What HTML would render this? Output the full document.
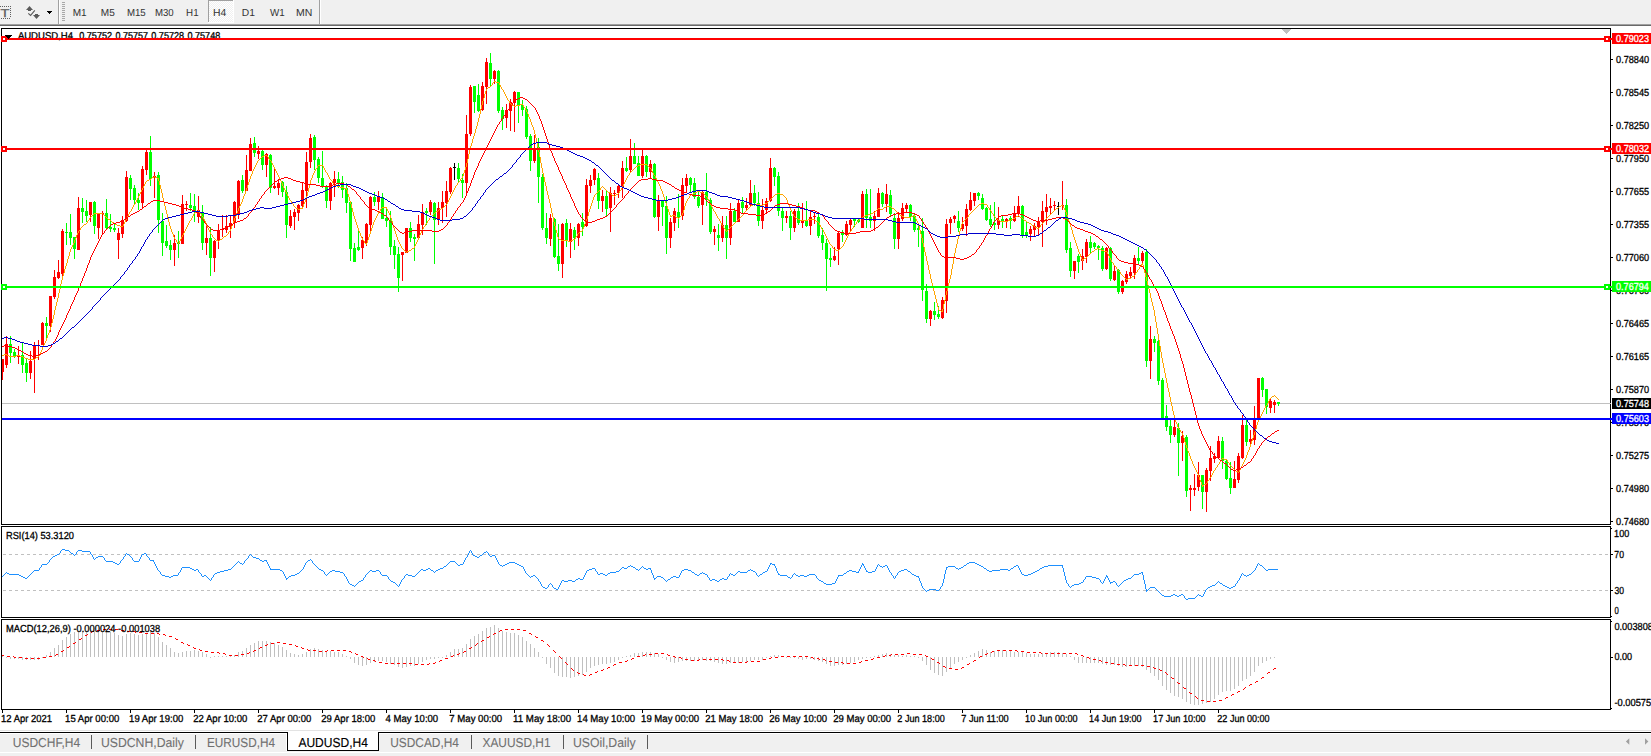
<!DOCTYPE html>
<html lang="en"><head><meta charset="utf-8"><title>AUDUSD,H4</title>
<style>
html,body{margin:0;padding:0;background:#fff;overflow:hidden}
body{width:1651px;height:756px}
svg{display:block;position:absolute;left:0;top:0}
text{font-family:"Liberation Sans",sans-serif;fill:#000;stroke:#000;stroke-width:.3px;white-space:pre;text-rendering:geometricPrecision}
.tb{fill:#333;stroke:none}
.ti{fill:#5a5a5a;stroke:#5a5a5a;stroke-width:.25px}
.tab{fill:#707070;stroke:#707070;stroke-width:.1px}
.tabA{fill:#000;stroke-width:.15px}
.w{fill:#fff;stroke:#fff}
.cr{shape-rendering:crispEdges}
</style></head><body>
<svg width="1651" height="756" viewBox="0 0 1651 756">
<rect width="1651" height="756" fill="#fff"/>
<g class="cr">
<rect x="0" y="0" width="1651" height="24" fill="#f0f0f0"/>
<rect x="0" y="24" width="1651" height="1" fill="#a0a0a0"/>
<rect x="0" y="25" width="1651" height="1" fill="#696969"/>
<path d="M0,6h1v1h-1zM2,6h1v1h-1zM4,6h1v1h-1zM6,6h1v1h-1zM8,6h1v1h-1zM10,6h1v1h-1zM1,18h1v1h-1zM3,18h1v1h-1zM5,18h1v1h-1zM7,18h1v1h-1zM9,18h1v1h-1zM10,8h1v1h-1zM10,10h1v1h-1zM10,12h1v1h-1zM10,14h1v1h-1zM10,16h1v1h-1z" fill="#606060"/>
<path d="M26,10 L29.5,6 L33,10 Z M28,10h3v1h-3z M33,15 L36.5,19 L40,15 Z M35,14h3v1h-3z" fill="#5a5a5a" shape-rendering="geometricPrecision"/>
<path d="M28.3,13.3 L30.6,15.4 L34.8,10.4" fill="none" stroke="#5a5a5a" stroke-width="1.1" shape-rendering="geometricPrecision"/>
<path d="M47,11h5v1h-5zM48,12h3v1h-3zM49,13h1v1h-1z" fill="#000"/>
<rect x="58" y="0" width="1" height="24" fill="#a0a0a0"/><rect x="59" y="0" width="1" height="24" fill="#fff"/>
<path d="M62,2h3v1h-3zM62,4h3v1h-3zM62,6h3v1h-3zM62,8h3v1h-3zM62,10h3v1h-3zM62,12h3v1h-3zM62,14h3v1h-3zM62,16h3v1h-3zM62,18h3v1h-3zM62,20h3v1h-3z" fill="#a8a8a8"/>
<rect x="319" y="0" width="1" height="24" fill="#a0a0a0"/><rect x="320" y="0" width="1" height="24" fill="#fff"/>
<defs><pattern id="chk" width="2" height="2" patternUnits="userSpaceOnUse"><rect width="2" height="2" fill="#f0f0f0"/><rect width="1" height="1" fill="#fff"/><rect x="1" y="1" width="1" height="1" fill="#fff"/></pattern></defs>
<rect x="209" y="1" width="24" height="21" fill="url(#chk)"/>
<rect x="208" y="0" width="25" height="1" fill="#a0a0a0"/><rect x="208" y="0" width="1" height="22" fill="#a0a0a0"/>
<rect x="233" y="0" width="1" height="23" fill="#fff"/><rect x="208" y="22" width="26" height="1" fill="#fff"/>
</g>
<text class="ti" x="0.55" y="17" font-size="11.4" textLength="8.9" lengthAdjust="spacingAndGlyphs">T</text>
<text class="tb" x="72.78" y="16" font-size="10.2" textLength="13.91" lengthAdjust="spacingAndGlyphs">M1</text>
<text class="tb" x="100.78" y="16" font-size="10.2" textLength="13.95" lengthAdjust="spacingAndGlyphs">M5</text>
<text class="tb" x="126.91" y="16" font-size="10.2" textLength="18.80" lengthAdjust="spacingAndGlyphs">M15</text>
<text class="tb" x="154.91" y="16" font-size="10.2" textLength="18.77" lengthAdjust="spacingAndGlyphs">M30</text>
<text class="tb" x="186.10" y="16" font-size="10.2" textLength="12.48" lengthAdjust="spacingAndGlyphs">H1</text>
<text class="tb" x="212.95" y="16" font-size="10.2" textLength="13.25" lengthAdjust="spacingAndGlyphs">H4</text>
<text class="tb" x="241.76" y="16" font-size="10.2" textLength="13.15" lengthAdjust="spacingAndGlyphs">D1</text>
<text class="tb" x="269.96" y="16" font-size="10.2" textLength="14.72" lengthAdjust="spacingAndGlyphs">W1</text>
<text class="tb" x="295.94" y="16" font-size="10.2" textLength="16.32" lengthAdjust="spacingAndGlyphs">MN</text>
<g class="cr" fill="none" stroke="#000" stroke-width="1">
<rect x="1.5" y="28.5" width="1609" height="496"/>
<rect x="1.5" y="526.5" width="1609" height="91"/>
<rect x="1.5" y="619.5" width="1609" height="90"/>
</g>
<path class="cr" d="M1282,29h9v1h-9zM1283,30h7v1h-7zM1284,31h5v1h-5zM1285,32h3v1h-3zM1286,33h1v1h-1z" fill="#c0c0c0"/>
<text x="17.88" y="39.3" font-size="10" textLength="55.10" lengthAdjust="spacingAndGlyphs">AUDUSD,H4</text>
<text x="79.14" y="39.3" font-size="10" textLength="33.02" lengthAdjust="spacingAndGlyphs">0.75752</text>
<text x="115.45" y="39.3" font-size="10" textLength="32.50" lengthAdjust="spacingAndGlyphs">0.75757</text>
<text x="151.25" y="39.3" font-size="10" textLength="32.85" lengthAdjust="spacingAndGlyphs">0.75728</text>
<text x="187.45" y="39.3" font-size="10" textLength="32.85" lengthAdjust="spacingAndGlyphs">0.75748</text>
<rect class="cr" x="2" y="403" width="1609" height="1" fill="#c0c0c0"/>
<g class="cr">
<path d="M2,359h1v21h-1zM2,359h2v13h-2zM6,336h1v32h-1zM5,344h3v21h-3zM18,346h1v18h-1zM17,356h3v1h-3zM30,351h1v28h-1zM29,361h3v12h-3zM34,342h1v51h-1zM33,345h3v14h-3zM38,340h1v20h-1zM37,355h3v1h-3zM42,322h1v23h-1zM41,323h3v22h-3zM50,296h1v36h-1zM49,296h3v30h-3zM54,270h1v29h-1zM53,277h3v20h-3zM58,260h1v19h-1zM57,272h3v6h-3zM62,229h1v47h-1zM61,231h3v43h-3zM78,197h1v53h-1zM77,208h3v42h-3zM90,202h1v20h-1zM89,202h3v13h-3zM98,213h1v26h-1zM97,214h3v14h-3zM102,211h1v24h-1zM101,213h3v1h-3zM118,228h1v31h-1zM117,233h3v7h-3zM122,216h1v22h-1zM121,220h3v14h-3zM126,171h1v51h-1zM125,177h3v44h-3zM142,166h1v43h-1zM141,169h3v34h-3zM146,148h1v27h-1zM145,152h3v18h-3zM154,172h1v26h-1zM153,176h3v2h-3zM174,235h1v31h-1zM173,243h3v7h-3zM182,195h1v49h-1zM181,204h3v40h-3zM186,201h1v10h-1zM185,204h3v1h-3zM198,196h1v27h-1zM197,210h3v7h-3zM206,226h1v29h-1zM205,238h3v5h-3zM214,240h1v32h-1zM213,241h3v17h-3zM218,224h1v25h-1zM217,230h3v11h-3zM222,215h1v22h-1zM221,229h3v1h-3zM226,215h1v18h-1zM225,226h3v4h-3zM230,216h1v22h-1zM229,223h3v4h-3zM234,201h1v27h-1zM233,202h3v21h-3zM238,180h1v39h-1zM237,181h3v33h-3zM246,155h1v36h-1zM245,170h3v21h-3zM250,138h1v33h-1zM249,144h3v27h-3zM258,146h1v13h-1zM257,151h3v3h-3zM266,153h1v24h-1zM265,154h3v11h-3zM274,168h1v21h-1zM273,186h3v2h-3zM278,179h1v16h-1zM277,183h3v5h-3zM290,210h1v18h-1zM289,216h3v10h-3zM294,209h1v21h-1zM293,212h3v5h-3zM298,204h1v17h-1zM297,205h3v8h-3zM302,183h1v24h-1zM301,190h3v16h-3zM306,152h1v56h-1zM305,162h3v29h-3zM310,134h1v34h-1zM309,138h3v24h-3zM330,182h1v28h-1zM329,183h3v18h-3zM334,171h1v26h-1zM333,179h3v4h-3zM362,237h1v22h-1zM361,240h3v8h-3zM366,223h1v23h-1zM365,224h3v19h-3zM370,196h1v38h-1zM369,197h3v28h-3zM378,191h1v19h-1zM377,196h3v6h-3zM402,252h1v29h-1zM401,252h3v3h-3zM406,228h1v25h-1zM405,228h3v25h-3zM418,215h1v25h-1zM417,224h3v14h-3zM422,204h1v31h-1zM421,212h3v13h-3zM430,200h1v15h-1zM429,202h3v10h-3zM438,202h1v23h-1zM437,208h3v12h-3zM442,191h1v32h-1zM441,202h3v6h-3zM446,181h1v36h-1zM445,191h3v12h-3zM450,167h1v27h-1zM449,168h3v24h-3zM466,115h1v79h-1zM465,134h3v49h-3zM470,85h1v51h-1zM469,87h3v47h-3zM482,82h1v29h-1zM481,86h3v24h-3zM486,58h1v46h-1zM485,62h3v25h-3zM494,70h1v14h-1zM493,71h3v8h-3zM506,104h1v24h-1zM505,110h3v8h-3zM510,99h1v32h-1zM509,102h3v9h-3zM514,91h1v41h-1zM513,92h3v11h-3zM534,135h1v28h-1zM533,148h3v13h-3zM550,214h1v32h-1zM549,218h3v21h-3zM562,223h1v55h-1zM561,224h3v40h-3zM570,223h1v35h-1zM569,229h3v13h-3zM578,223h1v23h-1zM577,224h3v14h-3zM586,179h1v48h-1zM585,185h3v41h-3zM590,175h1v18h-1zM589,180h3v6h-3zM594,168h1v17h-1zM593,169h3v11h-3zM602,190h1v22h-1zM601,196h3v5h-3zM610,187h1v45h-1zM609,193h3v15h-3zM614,190h1v15h-1zM613,193h3v1h-3zM618,185h1v13h-1zM617,186h3v7h-3zM622,161h1v37h-1zM621,168h3v19h-3zM630,139h1v33h-1zM629,156h3v14h-3zM642,150h1v28h-1zM641,156h3v20h-3zM650,160h1v18h-1zM649,164h3v8h-3zM658,195h1v36h-1zM657,201h3v16h-3zM670,218h1v30h-1zM669,222h3v16h-3zM674,208h1v23h-1zM673,211h3v12h-3zM682,178h1v42h-1zM681,185h3v31h-3zM686,174h1v18h-1zM685,178h3v8h-3zM702,190h1v35h-1zM701,192h3v13h-3zM714,226h1v19h-1zM713,229h3v3h-3zM722,216h1v26h-1zM721,225h3v13h-3zM730,203h1v42h-1zM729,211h3v27h-3zM738,200h1v22h-1zM737,203h3v19h-3zM746,198h1v12h-1zM745,205h3v3h-3zM750,180h1v27h-1zM749,193h3v12h-3zM762,199h1v30h-1zM761,210h3v11h-3zM766,198h1v15h-1zM765,201h3v9h-3zM770,158h1v44h-1zM769,168h3v33h-3zM786,211h1v12h-1zM785,216h3v2h-3zM794,209h1v23h-1zM793,211h3v17h-3zM802,203h1v25h-1zM801,220h3v3h-3zM810,211h1v24h-1zM809,217h3v9h-3zM814,212h1v12h-1zM813,216h3v1h-3zM834,247h1v14h-1zM833,256h3v4h-3zM838,232h1v33h-1zM837,233h3v16h-3zM846,221h1v15h-1zM845,224h3v11h-3zM850,219h1v13h-1zM849,220h3v5h-3zM862,191h1v37h-1zM861,194h3v34h-3zM874,211h1v20h-1zM873,216h3v5h-3zM878,188h1v29h-1zM877,193h3v24h-3zM886,184h1v28h-1zM885,194h3v10h-3zM898,212h1v37h-1zM897,218h3v21h-3zM902,203h1v18h-1zM901,208h3v11h-3zM906,203h1v9h-1zM905,205h3v4h-3zM930,310h1v16h-1zM929,311h3v8h-3zM942,297h1v22h-1zM941,300h3v18h-3zM946,219h1v94h-1zM945,224h3v77h-3zM950,217h1v17h-1zM949,219h3v4h-3zM954,215h1v8h-1zM953,216h3v3h-3zM962,217h1v14h-1zM961,224h3v5h-3zM966,204h1v32h-1zM965,209h3v17h-3zM970,192h1v19h-1zM969,200h3v10h-3zM974,193h1v13h-1zM973,193h3v8h-3zM998,207h1v22h-1zM997,220h3v5h-3zM1006,218h1v10h-1zM1005,219h3v2h-3zM1014,206h1v16h-1zM1013,213h3v8h-3zM1018,196h1v21h-1zM1017,206h3v7h-3zM1030,226h1v15h-1zM1029,229h3v5h-3zM1034,223h1v13h-1zM1033,226h3v4h-3zM1038,217h1v18h-1zM1037,222h3v5h-3zM1042,201h1v46h-1zM1041,211h3v11h-3zM1046,194h1v31h-1zM1045,207h3v5h-3zM1050,198h1v17h-1zM1049,206h3v2h-3zM1054,201h1v9h-1zM1053,205h3v1h-3zM1062,181h1v29h-1zM1061,205h3v1h-3zM1074,261h1v18h-1zM1073,261h3v10h-3zM1082,249h1v21h-1zM1081,256h3v5h-3zM1086,239h1v24h-1zM1085,242h3v15h-3zM1106,247h1v23h-1zM1105,248h3v21h-3zM1114,265h1v16h-1zM1113,271h3v9h-3zM1122,280h1v14h-1zM1121,281h3v11h-3zM1126,271h1v13h-1zM1125,274h3v8h-3zM1130,267h1v11h-1zM1129,272h3v4h-3zM1134,255h1v24h-1zM1133,258h3v15h-3zM1142,251h1v13h-1zM1141,253h3v8h-3zM1150,326h1v53h-1zM1149,339h3v22h-3zM1174,420h1v17h-1zM1173,427h3v8h-3zM1182,431h1v30h-1zM1181,436h3v7h-3zM1190,485h1v26h-1zM1189,488h3v2h-3zM1194,474h1v22h-1zM1193,488h3v2h-3zM1198,462h1v29h-1zM1197,475h3v12h-3zM1206,468h1v44h-1zM1205,470h3v22h-3zM1210,446h1v35h-1zM1209,458h3v13h-3zM1214,453h1v10h-1zM1213,456h3v3h-3zM1218,436h1v22h-1zM1217,441h3v17h-3zM1234,461h1v27h-1zM1233,479h3v9h-3zM1238,453h1v30h-1zM1237,456h3v24h-3zM1242,415h1v44h-1zM1241,425h3v33h-3zM1250,430h1v16h-1zM1249,439h3v3h-3zM1254,406h1v39h-1zM1253,419h3v21h-3zM1258,378h1v42h-1zM1257,378h3v41h-3zM1270,398h1v15h-1zM1269,401h3v7h-3zM1274,400h1v13h-1zM1273,402h3v3h-3z" fill="#ff0000"/>
<path d="M10,336h1v27h-1zM9,344h3v9h-3zM14,349h1v9h-1zM13,352h3v5h-3zM22,343h1v30h-1zM21,355h3v10h-3zM26,358h1v24h-1zM25,363h3v10h-3zM46,317h1v21h-1zM45,323h3v3h-3zM66,223h1v22h-1zM65,232h3v1h-3zM70,214h1v31h-1zM69,232h3v6h-3zM74,237h1v22h-1zM73,237h3v12h-3zM82,198h1v25h-1zM81,208h3v4h-3zM86,200h1v22h-1zM85,211h3v5h-3zM94,201h1v33h-1zM93,202h3v24h-3zM106,199h1v30h-1zM105,213h3v15h-3zM110,214h1v18h-1zM109,227h3v2h-3zM114,223h1v9h-1zM113,228h3v2h-3zM130,175h1v25h-1zM129,178h3v11h-3zM134,185h1v19h-1zM133,188h3v12h-3zM138,193h1v17h-1zM137,200h3v3h-3zM150,136h1v50h-1zM149,152h3v27h-3zM158,172h1v61h-1zM157,175h3v45h-3zM162,213h1v43h-1zM161,221h3v22h-3zM166,225h1v23h-1zM165,241h3v5h-3zM170,240h1v20h-1zM169,245h3v5h-3zM178,231h1v27h-1zM177,243h3v1h-3zM190,193h1v18h-1zM189,205h3v3h-3zM194,194h1v28h-1zM193,206h3v5h-3zM202,205h1v45h-1zM201,213h3v30h-3zM210,227h1v49h-1zM209,238h3v20h-3zM242,175h1v18h-1zM241,180h3v11h-3zM254,137h1v20h-1zM253,143h3v10h-3zM262,150h1v20h-1zM261,151h3v14h-3zM270,154h1v39h-1zM269,155h3v33h-3zM282,181h1v16h-1zM281,182h3v10h-3zM286,186h1v52h-1zM285,192h3v33h-3zM314,135h1v35h-1zM313,137h3v23h-3zM318,157h1v26h-1zM317,159h3v19h-3zM322,151h1v37h-1zM321,178h3v9h-3zM326,185h1v23h-1zM325,186h3v15h-3zM338,172h1v16h-1zM337,179h3v4h-3zM342,176h1v22h-1zM341,182h3v8h-3zM346,183h1v30h-1zM345,188h3v15h-3zM350,201h1v60h-1zM349,202h3v47h-3zM354,243h1v19h-1zM353,248h3v14h-3zM358,228h1v23h-1zM357,247h3v3h-3zM374,192h1v14h-1zM373,197h3v5h-3zM382,193h1v26h-1zM381,197h3v22h-3zM386,209h1v18h-1zM385,218h3v3h-3zM390,211h1v44h-1zM389,220h3v27h-3zM394,240h1v29h-1zM393,246h3v9h-3zM398,247h1v45h-1zM397,254h3v24h-3zM410,222h1v20h-1zM409,228h3v10h-3zM414,234h1v27h-1zM413,237h3v2h-3zM426,208h1v17h-1zM425,211h3v2h-3zM434,202h1v62h-1zM433,203h3v17h-3zM458,163h1v19h-1zM457,168h3v11h-3zM462,174h1v24h-1zM461,180h3v3h-3zM474,86h1v27h-1zM473,86h3v16h-3zM478,84h1v28h-1zM477,95h3v16h-3zM490,53h1v33h-1zM489,63h3v16h-3zM498,70h1v43h-1zM497,71h3v40h-3zM502,107h1v23h-1zM501,110h3v9h-3zM518,92h1v31h-1zM517,92h3v14h-3zM522,100h1v16h-1zM521,105h3v5h-3zM526,106h1v33h-1zM525,109h3v28h-3zM530,134h1v37h-1zM529,136h3v25h-3zM538,138h1v65h-1zM537,147h3v30h-3zM542,174h1v56h-1zM541,177h3v51h-3zM546,213h1v31h-1zM545,228h3v10h-3zM554,218h1v40h-1zM553,219h3v38h-3zM558,224h1v47h-1zM557,256h3v8h-3zM566,219h1v28h-1zM565,223h3v17h-3zM574,227h1v23h-1zM573,230h3v8h-3zM582,213h1v23h-1zM581,222h3v5h-3zM598,173h1v36h-1zM597,178h3v23h-3zM606,190h1v26h-1zM605,196h3v13h-3zM626,157h1v15h-1zM625,168h3v3h-3zM634,143h1v21h-1zM633,156h3v8h-3zM638,156h1v20h-1zM637,163h3v13h-3zM646,155h1v22h-1zM645,156h3v16h-3zM654,163h1v55h-1zM653,164h3v53h-3zM662,200h1v26h-1zM661,201h3v6h-3zM666,196h1v58h-1zM665,206h3v32h-3zM678,194h1v34h-1zM677,212h3v6h-3zM690,177h1v15h-1zM689,178h3v7h-3zM694,178h1v21h-1zM693,183h3v14h-3zM698,190h1v18h-1zM697,197h3v9h-3zM706,173h1v33h-1zM705,192h3v8h-3zM710,198h1v36h-1zM709,200h3v32h-3zM718,224h1v27h-1zM717,235h3v3h-3zM726,216h1v43h-1zM725,225h3v13h-3zM734,208h1v14h-1zM733,211h3v11h-3zM742,197h1v16h-1zM741,202h3v6h-3zM754,185h1v21h-1zM753,193h3v10h-3zM758,192h1v34h-1zM757,203h3v18h-3zM774,167h1v19h-1zM773,168h3v9h-3zM778,172h1v44h-1zM777,176h3v35h-3zM782,207h1v24h-1zM781,211h3v7h-3zM790,211h1v29h-1zM789,216h3v12h-3zM798,203h1v22h-1zM797,211h3v12h-3zM806,201h1v26h-1zM805,220h3v6h-3zM818,214h1v24h-1zM817,217h3v19h-3zM822,228h1v22h-1zM821,235h3v8h-3zM826,239h1v52h-1zM825,243h3v16h-3zM830,248h1v19h-1zM829,258h3v2h-3zM842,230h1v12h-1zM841,232h3v3h-3zM854,219h1v8h-1zM853,219h3v2h-3zM858,219h1v4h-1zM857,220h3v2h-3zM866,189h1v39h-1zM865,194h3v24h-3zM870,189h1v39h-1zM869,217h3v4h-3zM882,192h1v15h-1zM881,193h3v11h-3zM890,190h1v26h-1zM889,195h3v19h-3zM894,213h1v36h-1zM893,218h3v21h-3zM910,204h1v17h-1zM909,205h3v12h-3zM914,213h1v19h-1zM913,216h3v14h-3zM918,225h1v22h-1zM917,228h3v2h-3zM922,218h1v83h-1zM921,231h3v59h-3zM926,284h1v39h-1zM925,291h3v28h-3zM934,302h1v18h-1zM933,311h3v4h-3zM938,306h1v13h-1zM937,314h3v3h-3zM958,211h1v21h-1zM957,221h3v7h-3zM978,192h1v8h-1zM977,193h3v3h-3zM982,194h1v16h-1zM981,198h3v11h-3zM986,207h1v14h-1zM985,208h3v12h-3zM990,205h1v22h-1zM989,219h3v6h-3zM994,202h1v28h-1zM993,223h3v2h-3zM1002,216h1v12h-1zM1001,219h3v2h-3zM1010,216h1v13h-1zM1009,218h3v3h-3zM1022,205h1v33h-1zM1021,206h3v29h-3zM1026,222h1v16h-1zM1025,232h3v3h-3zM1066,199h1v54h-1zM1065,205h3v45h-3zM1070,242h1v35h-1zM1069,248h3v23h-3zM1078,254h1v19h-1zM1077,256h3v6h-3zM1090,236h1v17h-1zM1089,242h3v6h-3zM1094,242h1v7h-1zM1093,243h3v4h-3zM1098,245h1v15h-1zM1097,246h3v2h-3zM1102,246h1v25h-1zM1101,248h3v21h-3zM1110,247h1v34h-1zM1109,248h3v31h-3zM1118,269h1v25h-1zM1117,270h3v22h-3zM1138,247h1v18h-1zM1137,258h3v3h-3zM1146,249h1v118h-1zM1145,252h3v109h-3zM1154,336h1v16h-1zM1153,339h3v4h-3zM1158,340h1v45h-1zM1157,341h3v40h-3zM1162,378h1v40h-1zM1161,380h3v38h-3zM1166,405h1v26h-1zM1165,416h3v11h-3zM1170,420h1v23h-1zM1169,426h3v9h-3zM1178,423h1v53h-1zM1177,428h3v15h-3zM1186,435h1v62h-1zM1185,437h3v54h-3zM1202,475h1v34h-1zM1201,475h3v17h-3zM1222,437h1v32h-1zM1221,441h3v20h-3zM1226,460h1v20h-1zM1225,461h3v18h-3zM1230,462h1v32h-1zM1229,478h3v10h-3zM1246,419h1v27h-1zM1245,425h3v17h-3zM1262,377h1v20h-1zM1261,378h3v12h-3zM1266,389h1v25h-1zM1265,389h3v18h-3zM1278,402h1v4h-1zM1277,402h3v2h-3z" fill="#00ff00"/>
<path d="M454,163h1v17h-1zM453,167h3v1h-3zM1058,202h1v13h-1zM1057,206h3v1h-3z" fill="#000000"/>
</g>
<g class="cr">
<path d="M2,355h2v1h-2zm2,-1h3v1h-3zm3,1h2v1h-2zm2,1h7v1h-7zm7,-1h4v1h-4zm4,1h3v1h-3zm3,1h2v1h-2zm2,1h3v1h-3zm3,1h7v1h-7zm7,-1h1v1h-1zm1,-1h2v1h-2zm2,-1h1v1h-1zm1,-2h1v2h-1zm1,-2h1v2h-1zm1,-2h1v2h-1zm1,-3h1v3h-1zm1,-2h1v2h-1zm1,-2h1v2h-1zm1,-2h1v2h-1zm1,-3h1v3h-1zm1,-3h1v3h-1zm1,-2h1v2h-1zm1,-3h1v3h-1zm1,-3h1v3h-1zm1,-4h1v4h-1zm1,-4h1v4h-1zm1,-4h1v4h-1zm1,-5h1v5h-1zm1,-4h1v4h-1zm1,-4h1v4h-1zm1,-4h1v4h-1zm1,-5h1v5h-1zm1,-4h1v4h-1zm1,-5h1v5h-1zm1,-4h1v4h-1zm1,-4h1v4h-1zm1,-3h1v3h-1zm1,-4h1v4h-1zm1,-3h1v3h-1zm1,-3h1v3h-1zm1,-4h1v4h-1zm1,-3h1v3h-1zm1,-4h1v4h-1zm1,-3h1v3h-1zm1,-2h1v2h-1zm1,-2h1v2h-1zm1,-2h1v2h-1zm1,-3h1v3h-1zm1,-2h1v2h-1zm1,-3h1v3h-1zm1,-2h1v2h-1zm1,-2h1v2h-1zm1,-1h1v1h-1zm1,-2h1v2h-1zm1,-1h1v1h-1zm1,-1h1v1h-1zm1,-1h1v1h-1zm1,-1h2v1h-2zm2,-1h1v1h-1zm1,-2h1v2h-1zm1,-1h1v1h-1zm1,-2h1v2h-1zm1,-1h1v1h-1zm1,-1h1v1h-1zm1,-1h1v1h-1zm1,-1h1v1h-1zm1,-1h9v1h-9zm9,1h1v1h-1zm1,1h1v1h-1zm1,1h1v1h-1zm1,1h1v1h-1zm1,1h1v1h-1zm1,1h2v1h-2zm2,1h1v1h-1zm1,1h1v1h-1zm1,1h2v1h-2zm2,1h1v1h-1zm1,1h2v1h-2zm2,1h3v1h-3zm3,1h3v1h-3zm3,-2h1v2h-1zm1,-2h1v2h-1zm1,-2h1v2h-1zm1,-2h1v2h-1zm1,-2h1v2h-1zm1,-2h1v2h-1zm1,-2h1v2h-1zm1,-1h1v1h-1zm1,-2h1v2h-1zm1,-2h1v2h-1zm1,-2h1v2h-1zm1,-1h1v1h-1zm1,-2h1v2h-1zm1,-2h1v2h-1zm1,-2h1v2h-1zm1,-2h1v2h-1zm1,-2h1v2h-1zm1,-2h1v2h-1zm1,-2h1v2h-1zm1,-2h1v2h-1zm1,-2h1v2h-1zm1,-2h1v2h-1zm1,-2h1v2h-1zm1,-1h1v1h-1zm1,-1h2v1h-2zm2,-1h2v1h-2zm2,-1h1v1h-1zm1,-1h2v1h-2zm2,-1h1v1h-1zm1,1h2v1h-2zm2,1h2v1h-2zm1,1h1v2h-1zm1,2h1v4h-1zm1,4h1v4h-1zm1,4h1v4h-1zm1,4h1v5h-1zm1,5h1v4h-1zm1,4h1v4h-1zm1,4h1v4h-1zm1,4h1v4h-1zm1,4h1v4h-1zm1,4h1v4h-1zm1,4h1v4h-1zm1,4h1v3h-1zm1,3h1v3h-1zm1,3h1v2h-1zm1,2h1v3h-1zm1,3h1v2h-1zm1,2h1v1h-1zm1,1h1v2h-1zm1,2h1v1h-1zm1,1h1v1h-1zm1,-2h1v2h-1zm1,-2h1v2h-1zm1,-2h1v2h-1zm1,-2h1v2h-1zm1,-2h1v2h-1zm1,-2h1v2h-1zm1,-2h1v2h-1zm1,-2h1v2h-1zm1,-2h1v2h-1zm1,-2h1v2h-1zm1,-2h1v2h-1zm1,-1h1v1h-1zm1,-2h1v2h-1zm1,-2h1v2h-1zm1,-2h1v2h-1zm1,-1h1v1h-1zm1,-1h1v1h-1zm1,-1h2v1h-2zm2,-1h1v1h-1zm1,1h1v2h-1zm1,2h1v1h-1zm1,1h1v2h-1zm1,2h1v1h-1zm1,1h1v2h-1zm1,2h1v2h-1zm1,2h1v2h-1zm1,2h1v3h-1zm1,3h1v2h-1zm1,2h1v2h-1zm1,2h1v2h-1zm1,2h1v2h-1zm1,2h1v1h-1zm1,1h1v2h-1zm1,2h1v1h-1zm1,1h1v1h-1zm1,1h1v1h-1zm1,1h2v1h-2zm2,1h1v1h-1zm1,-1h1v1h-1zm1,-1h2v1h-2zm2,-1h1v1h-1zm1,-1h1v1h-1zm1,-1h2v1h-2zm2,-1h1v1h-1zm1,-1h1v1h-1zm1,-2h1v2h-1zm1,-1h1v1h-1zm1,-2h1v2h-1zm1,-3h1v3h-1zm1,-2h1v2h-1zm1,-3h1v3h-1zm1,-3h1v3h-1zm1,-2h1v2h-1zm1,-3h1v3h-1zm1,-2h1v2h-1zm1,-3h1v3h-1zm1,-2h1v2h-1zm1,-2h1v2h-1zm1,-2h1v2h-1zm1,-3h1v3h-1zm1,-3h1v3h-1zm1,-2h1v2h-1zm1,-3h1v3h-1zm1,-3h1v3h-1zm1,-3h1v3h-1zm1,-3h1v3h-1zm1,-3h1v3h-1zm1,-3h1v3h-1zm1,-2h1v2h-1zm1,-3h1v3h-1zm1,-2h1v2h-1zm1,-2h1v2h-1zm1,-2h1v2h-1zm1,-2h1v2h-1zm1,-2h1v2h-1zm1,-1h1v1h-1zm1,-1h1v1h-1zm1,-1h1v1h-1zm1,-1h1v1h-1zm1,-1h2v1h-2zm2,-1h3v1h-3zm3,1h1v1h-1zm1,1h1v2h-1zm1,2h1v1h-1zm1,1h1v1h-1zm1,1h1v2h-1zm1,2h1v2h-1zm1,2h1v2h-1zm1,2h1v2h-1zm1,2h1v2h-1zm1,2h1v2h-1zm1,2h1v2h-1zm1,2h1v2h-1zm1,2h1v2h-1zm1,2h1v2h-1zm1,2h1v2h-1zm1,2h1v3h-1zm1,3h1v2h-1zm1,2h1v2h-1zm1,2h1v2h-1zm1,2h1v2h-1zm1,2h1v2h-1zm1,2h1v2h-1zm1,2h1v2h-1zm1,2h1v1h-1zm1,1h1v2h-1zm1,2h1v1h-1zm1,1h1v2h-1zm1,2h1v1h-1zm1,1h1v1h-1zm1,1h2v1h-2zm2,1h2v1h-2zm2,-1h3v1h-3zm2,-1h1v1h-1zm1,-3h1v3h-1zm1,-2h1v2h-1zm1,-3h1v3h-1zm1,-3h1v3h-1zm1,-4h1v4h-1zm1,-4h1v4h-1zm1,-4h1v4h-1zm1,-4h1v4h-1zm1,-2h1v2h-1zm1,-3h1v3h-1zm1,-2h1v2h-1zm1,-2h1v2h-1zm1,-2h1v2h-1zm1,-1h1v1h-1zm1,-2h1v2h-1zm1,-1h5v1h-5zm5,1h1v2h-1zm1,2h1v2h-1zm1,2h1v2h-1zm1,2h1v1h-1zm1,1h1v2h-1zm1,2h1v2h-1zm1,2h1v2h-1zm1,2h1v1h-1zm1,1h1v1h-1zm1,1h1v2h-1zm1,2h1v1h-1zm1,1h1v1h-1zm1,1h2v1h-2zm2,1h3v1h-3zm3,1h4v1h-4zm4,1h3v1h-3zm2,1h1v1h-1zm1,1h1v4h-1zm1,4h1v3h-1zm1,3h1v4h-1zm1,4h1v3h-1zm1,3h1v4h-1zm1,4h1v4h-1zm1,4h1v4h-1zm1,4h1v3h-1zm1,3h1v3h-1zm1,3h1v3h-1zm1,3h1v3h-1zm1,3h1v3h-1zm1,3h1v2h-1zm1,2h1v3h-1zm1,3h1v2h-1zm1,2h1v2h-1zm1,2h1v1h-1zm1,1h1v2h-1zm1,2h2v1h-2zm1,1h1v1h-1zm1,-4h1v3h-1zm1,-3h1v3h-1zm1,-3h1v3h-1zm1,-3h1v3h-1zm1,-3h1v3h-1zm1,-3h1v3h-1zm1,-3h1v3h-1zm1,-2h1v2h-1zm1,-2h1v2h-1zm1,-2h1v2h-1zm1,-2h1v2h-1zm1,-2h1v2h-1zm1,-1h1v1h-1zm1,-2h1v2h-1zm1,-1h1v1h-1zm1,-1h5v1h-5zm4,1h1v1h-1zm1,1h1v2h-1zm1,2h1v2h-1zm1,2h1v2h-1zm1,2h1v3h-1zm1,3h1v3h-1zm1,3h1v4h-1zm1,4h1v3h-1zm1,3h1v3h-1zm1,3h1v3h-1zm1,3h1v3h-1zm1,3h1v3h-1zm1,3h1v2h-1zm1,2h1v2h-1zm1,2h1v2h-1zm1,2h1v2h-1zm1,2h1v1h-1zm1,1h1v1h-1zm1,1h1v1h-1zm1,1h1v1h-1zm1,1h1v1h-1zm1,-1h2v1h-2zm2,-1h2v1h-2zm2,-1h1v1h-1zm1,-1h2v1h-2zm2,-2h1v2h-1zm1,-2h1v2h-1zm1,-2h1v2h-1zm1,-2h1v2h-1zm1,-3h1v3h-1zm1,-2h1v2h-1zm1,-2h1v2h-1zm1,-2h1v2h-1zm1,-2h1v2h-1zm1,-2h1v2h-1zm1,-1h1v1h-1zm1,-2h1v2h-1zm1,-1h1v1h-1zm1,-2h1v2h-1zm1,-1h1v1h-1zm1,-2h1v2h-1zm1,-1h1v1h-1zm1,-1h1v1h-1zm1,-1h1v1h-1zm1,-1h1v1h-1zm1,-1h1v1h-1zm1,-1h1v1h-1zm1,-1h2v1h-2zm2,-1h1v1h-1zm1,-1h2v1h-2zm2,-1h2v1h-2zm2,-1h1v1h-1zm1,-1h1v1h-1zm1,-1h1v1h-1zm1,-1h1v1h-1zm1,-2h1v2h-1zm1,-2h1v2h-1zm1,-2h1v2h-1zm1,-2h1v2h-1zm1,-2h1v2h-1zm1,-2h1v2h-1zm1,-2h1v2h-1zm1,-2h1v2h-1zm1,-2h1v2h-1zm1,-1h1v1h-1zm1,-2h1v2h-1zm1,-1h1v1h-1zm1,-1h1v1h-1zm1,-2h1v2h-1zm1,-1h1v1h-1zm1,-2h1v2h-1zm1,-3h1v3h-1zm1,-3h1v3h-1zm1,-3h1v3h-1zm1,-4h1v4h-1zm1,-4h1v4h-1zm1,-5h1v5h-1zm1,-4h1v4h-1zm1,-4h1v4h-1zm1,-3h1v3h-1zm1,-4h1v4h-1zm1,-3h1v3h-1zm1,-3h1v3h-1zm1,-4h1v4h-1zm1,-3h1v3h-1zm1,-4h1v4h-1zm1,-4h1v4h-1zm1,-4h1v4h-1zm1,-5h1v5h-1zm1,-4h1v4h-1zm1,-4h1v4h-1zm1,-3h1v3h-1zm1,-4h1v4h-1zm1,-3h1v3h-1zm1,-2h1v2h-1zm1,-1h1v1h-1zm1,-1h2v1h-2zm2,-1h1v1h-1zm1,-1h1v1h-1zm1,-2h1v2h-1zm1,-1h1v1h-1zm1,-1h2v1h-2zm2,1h3v1h-3zm3,1h1v2h-1zm1,2h1v2h-1zm1,2h1v2h-1zm1,2h1v1h-1zm1,1h1v2h-1zm1,2h1v2h-1zm1,2h1v2h-1zm1,2h1v2h-1zm1,2h1v2h-1zm1,2h1v1h-1zm1,1h1v2h-1zm1,2h1v1h-1zm1,1h1v1h-1zm1,1h2v1h-2zm2,1h2v1h-2zm2,-1h4v1h-4zm4,-1h3v1h-3zm3,1h1v2h-1zm1,2h1v1h-1zm1,1h1v2h-1zm1,2h1v2h-1zm1,2h1v2h-1zm1,2h1v3h-1zm1,3h1v2h-1zm1,2h1v3h-1zm1,3h1v3h-1zm1,3h1v2h-1zm1,2h1v3h-1zm1,3h1v4h-1zm1,4h1v4h-1zm1,4h1v5h-1zm1,5h1v4h-1zm1,4h1v5h-1zm1,5h1v5h-1zm1,5h1v6h-1zm1,6h1v5h-1zm1,5h1v5h-1zm1,5h1v4h-1zm1,4h1v5h-1zm1,5h1v4h-1zm1,4h1v5h-1zm1,5h1v4h-1zm1,4h1v4h-1zm1,4h1v4h-1zm1,4h1v5h-1zm1,5h1v5h-1zm1,5h1v4h-1zm1,4h1v5h-1zm1,5h1v4h-1zm1,4h1v4h-1zm1,4h1v3h-1zm1,3h1v4h-1zm1,4h1v2h-1zm1,2h2v1h-2zm2,1h7v1h-7zm7,1h3v1h-3zm3,-1h2v1h-2zm2,-1h2v1h-2zm2,-2h1v2h-1zm1,-1h1v1h-1zm1,-2h1v2h-1zm1,-1h1v1h-1zm1,-1h1v1h-1zm1,-1h2v1h-2zm2,-2h1v2h-1zm1,-2h1v2h-1zm1,-3h1v3h-1zm1,-2h1v2h-1zm1,-3h1v3h-1zm1,-3h1v3h-1zm1,-4h1v4h-1zm1,-3h1v3h-1zm1,-3h1v3h-1zm1,-3h1v3h-1zm1,-3h1v3h-1zm1,-3h1v3h-1zm1,-2h1v2h-1zm1,-1h1v1h-1zm1,-1h1v1h-1zm1,-1h1v1h-1zm1,-1h1v1h-1zm1,-1h1v1h-1zm1,-2h1v2h-1zm1,-1h1v1h-1zm1,-1h1v1h-1zm1,1h1v1h-1zm1,1h1v1h-1zm1,1h1v1h-1zm1,1h1v1h-1zm1,1h1v1h-1zm1,1h2v1h-2zm2,1h1v1h-1zm1,1h1v1h-1zm1,1h2v1h-2zm2,1h1v1h-1zm1,-1h1v1h-1zm1,-1h2v1h-2zm2,-1h1v1h-1zm1,-2h1v2h-1zm1,-1h1v1h-1zm1,-2h1v2h-1zm1,-2h1v2h-1zm1,-2h1v2h-1zm1,-2h1v2h-1zm1,-2h1v2h-1zm1,-2h1v2h-1zm1,-2h1v2h-1zm1,-1h1v1h-1zm1,-2h1v2h-1zm1,-1h1v1h-1zm1,-1h1v1h-1zm1,-1h1v1h-1zm1,-1h1v1h-1zm1,-1h1v1h-1zm1,-1h1v1h-1zm1,-1h2v1h-2zm2,-1h2v1h-2zm2,-1h7v1h-7zm7,1h1v1h-1zm1,1h1v1h-1zm1,1h1v1h-1zm1,1h1v1h-1zm1,1h1v2h-1zm1,2h1v2h-1zm1,2h1v2h-1zm1,2h1v1h-1zm1,1h1v2h-1zm1,2h1v2h-1zm1,2h1v2h-1zm1,2h1v2h-1zm1,2h1v2h-1zm1,2h1v3h-1zm1,3h1v2h-1zm1,2h1v3h-1zm1,3h1v3h-1zm1,3h1v3h-1zm1,3h1v3h-1zm1,3h1v3h-1zm1,3h1v3h-1zm1,3h1v3h-1zm1,3h1v3h-1zm1,3h1v1h-1zm0,1h2v1h-2zm2,-1h3v1h-3zm3,1h1v1h-1zm1,1h2v1h-2zm2,1h1v1h-1zm1,-1h1v1h-1zm1,-1h1v1h-1zm1,-1h1v1h-1zm1,-2h1v2h-1zm1,-3h1v3h-1zm1,-4h1v4h-1zm1,-3h1v3h-1zm1,-2h1v2h-1zm1,-2h1v2h-1zm1,-1h1v1h-1zm1,-2h1v2h-1zm1,-1h1v1h-1zm1,-1h2v1h-2zm2,-1h2v1h-2zm2,-1h2v1h-2zm2,-1h3v1h-3zm3,1h3v1h-3zm3,1h1v1h-1zm1,1h1v1h-1zm1,1h1v1h-1zm1,1h1v1h-1zm1,1h1v2h-1zm1,2h1v2h-1zm1,2h1v2h-1zm1,2h1v2h-1zm1,2h1v2h-1zm1,2h1v2h-1zm1,2h1v2h-1zm1,2h1v1h-1zm1,1h1v2h-1zm1,2h1v2h-1zm1,2h1v2h-1zm1,2h1v1h-1zm1,1h1v2h-1zm1,2h1v2h-1zm1,2h1v2h-1zm1,2h1v1h-1zm1,1h1v2h-1zm1,2h1v1h-1zm1,1h1v2h-1zm1,2h1v1h-1zm1,-1h1v1h-1zm1,-1h1v1h-1zm1,-1h1v1h-1zm1,-1h1v1h-1zm1,-1h1v1h-1zm1,-1h1v1h-1zm1,-1h1v1h-1zm1,-1h1v1h-1zm1,-1h1v1h-1zm1,-1h1v1h-1zm1,-1h1v1h-1zm1,-1h1v1h-1zm1,-1h1v1h-1zm1,-1h1v1h-1zm1,-1h1v1h-1zm1,-1h1v1h-1zm1,-1h1v1h-1zm1,-2h1v2h-1zm1,-1h1v1h-1zm1,-1h1v1h-1zm1,-1h1v1h-1zm1,-1h1v1h-1zm1,-1h1v1h-1zm1,-1h1v1h-1zm1,-1h2v1h-2zm2,-1h7v1h-7zm7,1h3v1h-3zm3,-1h2v1h-2zm2,-1h2v1h-2zm2,-1h1v1h-1zm1,-1h1v1h-1zm1,-1h1v1h-1zm1,-1h1v1h-1zm1,-1h1v1h-1zm1,-1h1v1h-1zm1,-1h1v1h-1zm1,-1h1v1h-1zm1,-1h2v1h-2zm2,-1h3v1h-3zm3,1h3v1h-3zm3,1h1v1h-1zm1,1h1v1h-1zm1,1h1v1h-1zm1,1h1v2h-1zm1,2h1v3h-1zm1,3h1v2h-1zm1,2h1v3h-1zm1,3h1v2h-1zm1,2h1v2h-1zm1,2h1v2h-1zm1,2h1v2h-1zm1,2h1v1h-1zm1,1h1v1h-1zm1,1h2v1h-2zm2,1h2v1h-2zm2,1h8v1h-8zm8,-1h7v1h-7zm7,1h1v1h-1zm1,1h2v1h-2zm2,1h1v1h-1zm1,1h1v2h-1zm1,2h1v2h-1zm1,2h1v2h-1zm1,2h1v1h-1zm1,1h1v2h-1zm1,2h1v2h-1zm1,2h1v2h-1zm1,2h1v2h-1zm1,2h1v2h-1zm1,2h1v2h-1zm1,2h1v2h-1zm1,2h1v1h-1zm1,1h1v1h-1zm1,1h1v2h-1zm1,2h1v1h-1zm1,1h2v1h-2zm2,1h3v1h-3zm3,-1h1v1h-1zm1,-1h1v1h-1zm1,-1h1v1h-1zm1,-1h1v1h-1zm1,-2h1v2h-1zm1,-2h1v2h-1zm1,-2h1v2h-1zm1,-2h1v2h-1zm1,-2h1v2h-1zm1,-2h1v2h-1zm1,-2h1v2h-1zm1,-1h1v1h-1zm1,-2h1v2h-1zm1,-1h1v1h-1zm1,-2h1v2h-1zm1,-1h1v1h-1zm1,-1h1v1h-1zm1,-2h1v2h-1zm1,-1h1v1h-1zm1,-1h1v1h-1zm1,-1h1v1h-1zm1,-1h2v1h-2zm2,-1h1v1h-1zm1,-1h2v1h-2zm2,-1h3v1h-3zm3,-1h3v1h-3zm3,-1h2v1h-2zm2,-1h2v1h-2zm2,-1h1v1h-1zm1,-1h1v1h-1zm1,-1h1v1h-1zm1,-1h2v1h-2zm2,1h3v1h-3zm3,-1h1v1h-1zm1,-1h2v1h-2zm2,-1h5v1h-5zm5,1h1v1h-1zm1,1h2v1h-2zm2,1h1v1h-1zm1,1h1v1h-1zm1,1h1v1h-1zm1,1h1v1h-1zm1,1h1v1h-1zm1,1h1v1h-1zm1,1h2v1h-2zm2,1h2v1h-2zm2,1h7v1h-7zm7,-1h2v1h-2zm2,-1h2v1h-2zm1,1h1v1h-1zm1,1h1v2h-1zm1,2h1v2h-1zm1,2h1v2h-1zm1,2h1v3h-1zm1,3h1v4h-1zm1,4h1v4h-1zm1,4h1v4h-1zm1,4h1v5h-1zm1,5h1v4h-1zm1,4h1v5h-1zm1,5h1v4h-1zm1,4h1v5h-1zm1,5h1v4h-1zm1,4h1v5h-1zm1,5h1v4h-1zm1,4h1v5h-1zm1,5h1v4h-1zm1,4h1v4h-1zm1,4h1v4h-1zm1,4h1v4h-1zm1,4h1v4h-1zm1,4h1v4h-1zm1,4h1v4h-1zm1,4h1v3h-1zm1,3h2v1h-2zm2,1h2v1h-2zm1,-2h1v2h-1zm1,-5h1v5h-1zm1,-4h1v4h-1zm1,-5h1v5h-1zm1,-4h1v4h-1zm1,-4h1v4h-1zm1,-4h1v4h-1zm1,-4h1v4h-1zm1,-4h1v4h-1zm1,-6h1v6h-1zm1,-5h1v5h-1zm1,-6h1v6h-1zm1,-5h1v5h-1zm1,-5h1v5h-1zm1,-4h1v4h-1zm1,-5h1v5h-1zm1,-4h1v4h-1zm1,-4h1v4h-1zm1,-3h1v3h-1zm1,-4h1v4h-1zm1,-2h1v2h-1zm1,-1h1v1h-1zm1,-1h1v1h-1zm1,-1h1v1h-1zm1,-1h1v1h-1zm1,-1h1v1h-1zm1,-2h1v2h-1zm1,-1h1v1h-1zm1,-1h1v1h-1zm1,-1h1v1h-1zm1,-1h1v1h-1zm1,-1h1v1h-1zm1,-1h1v1h-1zm1,-1h1v1h-1zm1,-1h1v1h-1zm1,-1h1v1h-1zm1,-1h1v1h-1zm1,-1h2v1h-2zm2,-1h3v1h-3zm3,1h3v1h-3zm3,1h1v2h-1zm1,2h1v1h-1zm1,1h1v2h-1zm1,2h1v1h-1zm1,1h1v2h-1zm1,2h1v1h-1zm1,1h1v2h-1zm1,2h1v1h-1zm1,1h1v1h-1zm1,1h1v1h-1zm1,1h1v1h-1zm1,1h2v1h-2zm2,1h8v1h-8zm8,-1h3v1h-3zm3,-1h2v1h-2zm2,-1h2v1h-2zm2,-1h1v1h-1zm1,-1h2v1h-2zm2,-1h1v1h-1zm1,1h1v1h-1zm1,1h2v1h-2zm2,1h1v1h-1zm1,1h1v1h-1zm1,1h2v1h-2zm2,1h1v1h-1zm1,1h2v1h-2zm2,1h2v1h-2zm2,1h1v1h-1zm1,1h2v1h-2zm2,1h1v1h-1zm1,1h2v1h-2zm2,1h2v1h-2zm2,-1h1v1h-1zm1,-2h1v2h-1zm1,-1h1v1h-1zm1,-1h1v1h-1zm1,-1h1v1h-1zm1,-2h1v2h-1zm1,-1h1v1h-1zm1,-1h1v1h-1zm1,-1h1v1h-1zm1,-1h1v1h-1zm1,-1h1v1h-1zm1,-1h1v1h-1zm1,-1h1v1h-1zm1,-1h1v1h-1zm1,-1h1v1h-1zm1,-1h1v1h-1zm1,-1h1v1h-1zm1,-1h2v1h-2zm2,-1h1v1h-1zm1,-1h2v1h-2zm2,-1h2v1h-2zm2,1h1v2h-1zm1,2h1v2h-1zm1,2h1v2h-1zm1,2h1v3h-1zm1,3h1v3h-1zm1,3h1v3h-1zm1,3h1v3h-1zm1,3h1v3h-1zm1,3h1v3h-1zm1,3h1v4h-1zm1,4h1v3h-1zm1,3h1v3h-1zm1,3h1v3h-1zm1,3h1v3h-1zm1,3h1v3h-1zm1,3h1v3h-1zm1,3h1v2h-1zm1,2h1v3h-1zm1,3h1v2h-1zm1,2h2v1h-2zm0,1h1v1h-1zm2,-2h2v1h-2zm2,-1h1v1h-1zm1,-1h1v1h-1zm1,-1h1v1h-1zm1,-1h1v1h-1zm1,-1h1v1h-1zm1,-1h1v1h-1zm1,-1h2v1h-2zm2,-1h1v1h-1zm1,-1h2v1h-2zm2,-1h2v1h-2zm2,1h2v1h-2zm2,1h3v1h-3zm3,1h3v1h-3zm3,1h1v2h-1zm1,2h1v2h-1zm1,2h1v2h-1zm1,2h1v2h-1zm1,2h1v2h-1zm1,2h1v1h-1zm1,1h1v2h-1zm1,2h1v1h-1zm1,1h1v1h-1zm1,1h1v2h-1zm1,2h1v1h-1zm1,1h1v1h-1zm1,1h1v1h-1zm1,1h1v2h-1zm1,2h1v1h-1zm1,1h1v1h-1zm1,1h1v1h-1zm1,1h1v1h-1zm1,1h1v1h-1zm1,1h2v1h-2zm2,-1h3v1h-3zm3,-1h1v1h-1zm1,-1h2v1h-2zm2,-1h1v1h-1zm1,-2h1v2h-1zm1,-1h1v1h-1zm1,-2h1v2h-1zm1,-1h1v1h-1zm1,-2h1v2h-1zm1,-1h1v1h-1zm1,-2h2v1h-2zm0,1h1v1h-1zm1,-2h1v1h-1zm1,2h1v4h-1zm1,4h1v4h-1zm1,4h1v4h-1zm1,4h1v4h-1zm1,4h1v4h-1zm1,4h1v4h-1zm1,4h1v4h-1zm1,4h1v5h-1zm1,5h1v4h-1zm1,4h1v4h-1zm1,4h1v4h-1zm1,4h1v6h-1zm1,6h1v6h-1zm1,6h1v6h-1zm1,6h1v6h-1zm1,6h1v6h-1zm1,6h1v6h-1zm1,6h1v6h-1zm1,6h1v6h-1zm1,6h1v5h-1zm1,5h1v5h-1zm1,5h1v5h-1zm1,5h1v5h-1zm1,5h1v5h-1zm1,5h1v5h-1zm1,5h1v4h-1zm1,4h1v5h-1zm1,5h1v5h-1zm1,5h1v4h-1zm1,4h1v5h-1zm1,5h1v4h-1zm1,4h1v4h-1zm1,4h1v3h-1zm1,3h1v2h-1zm1,2h1v3h-1zm1,3h1v2h-1zm1,2h1v1h-1zm1,1h1v2h-1zm1,2h1v1h-1zm1,1h1v2h-1zm1,2h1v3h-1zm1,3h1v4h-1zm1,4h1v3h-1zm1,3h1v3h-1zm1,3h1v3h-1zm1,3h1v2h-1zm1,2h1v3h-1zm1,3h1v3h-1zm1,3h1v2h-1zm1,2h1v3h-1zm1,3h1v2h-1zm1,2h1v2h-1zm1,2h1v2h-1zm1,2h1v2h-1zm1,2h1v2h-1zm1,2h1v3h-1zm1,3h1v3h-1zm1,3h1v2h-1zm1,2h1v3h-1zm1,3h2v1h-2zm0,1h1v1h-1zm2,-2h2v1h-2zm2,-1h1v1h-1zm1,-2h1v2h-1zm1,-1h1v1h-1zm1,-2h1v2h-1zm1,-1h1v1h-1zm1,-2h1v2h-1zm1,-2h1v2h-1zm1,-2h1v2h-1zm1,-1h1v1h-1zm1,-2h1v2h-1zm1,-1h1v1h-1zm1,-2h1v2h-1zm1,-1h1v1h-1zm1,-2h1v2h-1zm1,-1h1v1h-1zm1,-2h1v2h-1zm1,-1h2v1h-2zm2,1h3v1h-3zm3,1h1v2h-1zm1,2h1v1h-1zm1,1h1v2h-1zm1,2h1v1h-1zm1,1h1v1h-1zm1,1h1v1h-1zm1,1h1v1h-1zm1,1h1v1h-1zm1,1h1v1h-1zm1,1h2v1h-2zm2,1h1v1h-1zm1,-2h1v2h-1zm1,-2h1v2h-1zm1,-2h1v2h-1zm1,-2h1v2h-1zm1,-2h1v2h-1zm1,-2h1v2h-1zm1,-2h1v2h-1zm1,-3h1v3h-1zm1,-3h1v3h-1zm1,-2h1v2h-1zm1,-3h1v3h-1zm1,-3h1v3h-1zm1,-3h1v3h-1zm1,-3h1v3h-1zm1,-3h1v3h-1zm1,-3h1v3h-1zm1,-3h1v3h-1zm1,-4h1v4h-1zm1,-3h1v3h-1zm1,-2h1v2h-1zm1,-2h1v2h-1zm1,-2h1v2h-1zm1,-2h1v2h-1zm1,-2h1v2h-1zm1,-2h1v2h-1zm1,-2h1v2h-1zm1,-2h1v2h-1zm1,-1h1v1h-1zm1,-2h1v2h-1zm1,-2h1v2h-1zm1,-2h1v2h-1zm1,-1h1v1h-1zm1,-1h1v1h-1zm1,-1h2v1h-2zm2,-1h1v1h-1zm1,1h1v1h-1zm1,1h1v1h-1zm1,1h1v1h-1zm1,1h1v1h-1z" fill="#ffa500"/>
<path d="M2,346h2v1h-2zm2,-1h4v1h-4zm4,1h4v1h-4zm4,1h3v1h-3zm3,1h2v1h-2zm2,1h2v1h-2zm2,1h2v1h-2zm2,1h2v1h-2zm2,1h1v1h-1zm1,1h2v1h-2zm2,1h2v1h-2zm2,1h4v1h-4zm4,1h4v1h-4zm4,-1h3v1h-3zm3,-1h2v1h-2zm2,-1h2v1h-2zm2,-1h2v1h-2zm2,-1h2v1h-2zm2,-1h1v1h-1zm1,-1h1v1h-1zm1,-1h1v1h-1zm1,-1h1v1h-1zm1,-2h1v2h-1zm1,-1h1v1h-1zm1,-2h1v2h-1zm1,-1h1v1h-1zm1,-2h1v2h-1zm1,-2h1v2h-1zm1,-2h1v2h-1zm1,-3h1v3h-1zm1,-2h1v2h-1zm1,-2h1v2h-1zm1,-2h1v2h-1zm1,-2h1v2h-1zm1,-2h1v2h-1zm1,-2h1v2h-1zm1,-2h1v2h-1zm1,-3h1v3h-1zm1,-2h1v2h-1zm1,-2h1v2h-1zm1,-2h1v2h-1zm1,-3h1v3h-1zm1,-2h1v2h-1zm1,-2h1v2h-1zm1,-2h1v2h-1zm1,-3h1v3h-1zm1,-2h1v2h-1zm1,-2h1v2h-1zm1,-2h1v2h-1zm1,-3h1v3h-1zm1,-2h1v2h-1zm1,-3h1v3h-1zm1,-2h1v2h-1zm1,-3h1v3h-1zm1,-2h1v2h-1zm1,-3h1v3h-1zm1,-2h1v2h-1zm1,-3h1v3h-1zm1,-3h1v3h-1zm1,-2h1v2h-1zm1,-3h1v3h-1zm1,-3h1v3h-1zm1,-2h1v2h-1zm1,-2h1v2h-1zm1,-2h1v2h-1zm1,-2h1v2h-1zm1,-2h1v2h-1zm1,-2h1v2h-1zm1,-2h1v2h-1zm1,-2h1v2h-1zm1,-2h1v2h-1zm1,-2h1v2h-1zm1,-2h1v2h-1zm1,-1h1v1h-1zm1,-1h1v1h-1zm1,-2h1v2h-1zm1,-1h1v1h-1zm1,-1h1v1h-1zm1,-1h1v1h-1zm1,-1h1v1h-1zm1,-1h1v1h-1zm1,-1h1v1h-1zm1,-1h2v1h-2zm2,-1h3v1h-3zm3,-1h4v1h-4zm4,-1h3v1h-3zm3,-1h1v1h-1zm1,-1h2v1h-2zm2,-1h1v1h-1zm1,-1h1v1h-1zm1,-1h2v1h-2zm2,-1h1v1h-1zm1,-1h2v1h-2zm2,-1h2v1h-2zm2,-1h2v1h-2zm2,-1h2v1h-2zm2,-1h1v1h-1zm1,-1h2v1h-2zm2,-1h1v1h-1zm1,-1h1v1h-1zm1,-1h2v1h-2zm2,-1h1v1h-1zm1,-1h1v1h-1zm1,-1h2v1h-2zm2,-1h1v1h-1zm1,-1h2v1h-2zm2,-1h7v1h-7zm7,1h4v1h-4zm4,1h4v1h-4zm4,1h4v1h-4zm4,1h4v1h-4zm4,1h3v1h-3zm3,1h2v1h-2zm2,1h3v1h-3zm3,1h4v1h-4zm4,1h4v1h-4zm4,1h3v1h-3zm3,1h1v1h-1zm1,1h1v1h-1zm1,1h1v1h-1zm1,1h1v1h-1zm1,1h1v1h-1zm1,1h1v2h-1zm1,2h1v1h-1zm1,1h1v1h-1zm1,1h1v1h-1zm1,1h1v2h-1zm1,2h1v1h-1zm1,1h1v1h-1zm1,1h1v1h-1zm1,1h1v1h-1zm1,1h1v1h-1zm1,1h1v1h-1zm1,1h2v1h-2zm2,1h7v1h-7zm7,-1h3v1h-3zm3,-1h2v1h-2zm2,-1h2v1h-2zm2,-1h2v1h-2zm2,-1h2v1h-2zm2,-1h2v1h-2zm2,-1h2v1h-2zm2,-1h2v1h-2zm2,-1h3v1h-3zm3,-1h3v1h-3zm3,-1h1v1h-1zm1,-1h2v1h-2zm2,-1h1v1h-1zm1,-1h1v1h-1zm1,-2h1v2h-1zm1,-1h1v1h-1zm1,-1h1v1h-1zm1,-1h1v1h-1zm1,-2h1v2h-1zm1,-1h1v1h-1zm1,-1h1v1h-1zm1,-2h1v2h-1zm1,-1h1v1h-1zm1,-2h1v2h-1zm1,-1h1v1h-1zm1,-2h1v2h-1zm1,-1h1v1h-1zm1,-2h1v2h-1zm1,-1h1v1h-1zm1,-1h1v1h-1zm1,-2h1v2h-1zm1,-1h1v1h-1zm1,-1h1v1h-1zm1,-1h1v1h-1zm1,-1h1v1h-1zm1,-1h1v1h-1zm1,-1h1v1h-1zm1,-1h1v1h-1zm1,-1h1v1h-1zm1,-1h1v1h-1zm1,-1h1v1h-1zm1,-1h2v1h-2zm2,-1h2v1h-2zm2,-1h2v1h-2zm2,-1h3v1h-3zm3,-1h4v1h-4zm4,1h3v1h-3zm3,1h2v1h-2zm2,1h3v1h-3zm3,1h4v1h-4zm4,1h4v1h-4zm4,1h4v1h-4zm4,1h8v1h-8zm8,1h4v1h-4zm4,1h11v1h-11zm11,-1h2v1h-2zm2,-1h3v1h-3zm3,-1h8v1h-8zm8,1h3v1h-3zm3,1h1v1h-1zm1,1h2v1h-2zm2,1h1v1h-1zm1,1h1v1h-1zm1,1h2v1h-2zm2,1h1v1h-1zm1,1h1v1h-1zm1,1h1v2h-1zm1,2h1v1h-1zm1,1h1v1h-1zm1,1h1v1h-1zm1,1h1v2h-1zm1,2h1v1h-1zm1,1h1v1h-1zm1,1h1v1h-1zm1,1h1v2h-1zm1,2h1v1h-1zm1,1h1v1h-1zm1,1h1v1h-1zm1,1h2v1h-2zm2,1h2v1h-2zm2,1h3v1h-3zm3,1h2v1h-2zm2,1h2v1h-2zm2,1h2v1h-2zm2,1h2v1h-2zm2,1h1v1h-1zm1,1h2v1h-2zm2,1h1v1h-1zm1,1h1v1h-1zm1,1h1v2h-1zm1,2h1v1h-1zm1,1h1v1h-1zm1,1h1v1h-1zm1,1h1v2h-1zm1,2h1v1h-1zm1,1h1v1h-1zm1,1h1v1h-1zm1,1h1v1h-1zm1,1h1v1h-1zm1,1h1v1h-1zm1,1h1v1h-1zm1,1h2v1h-2zm2,1h2v1h-2zm2,-1h4v1h-4zm4,-1h4v1h-4zm4,-1h20v1h-20zm20,1h7v1h-7zm7,-1h2v1h-2zm2,-1h2v1h-2zm2,-1h1v1h-1zm1,-1h1v1h-1zm1,-1h1v1h-1zm1,-1h1v1h-1zm1,-2h1v2h-1zm1,-1h1v1h-1zm1,-2h1v2h-1zm1,-1h1v1h-1zm1,-2h1v2h-1zm1,-1h1v1h-1zm1,-2h1v2h-1zm1,-1h1v1h-1zm1,-2h1v2h-1zm1,-1h1v1h-1zm1,-2h1v2h-1zm1,-1h1v1h-1zm1,-1h1v1h-1zm1,-2h1v2h-1zm1,-1h1v1h-1zm1,-1h1v1h-1zm1,-2h1v2h-1zm1,-2h1v2h-1zm1,-2h1v2h-1zm1,-3h1v3h-1zm1,-2h1v2h-1zm1,-3h1v3h-1zm1,-2h1v2h-1zm1,-3h1v3h-1zm1,-3h1v3h-1zm1,-2h1v2h-1zm1,-3h1v3h-1zm1,-3h1v3h-1zm1,-2h1v2h-1zm1,-2h1v2h-1zm1,-2h1v2h-1zm1,-3h1v3h-1zm1,-2h1v2h-1zm1,-2h1v2h-1zm1,-2h1v2h-1zm1,-2h1v2h-1zm1,-2h1v2h-1zm1,-2h1v2h-1zm1,-2h1v2h-1zm1,-2h1v2h-1zm1,-2h1v2h-1zm1,-2h1v2h-1zm1,-2h1v2h-1zm1,-2h1v2h-1zm1,-2h1v2h-1zm1,-2h1v2h-1zm1,-2h1v2h-1zm1,-2h1v2h-1zm1,-2h1v2h-1zm1,-2h1v2h-1zm1,-2h1v2h-1zm1,-1h1v1h-1zm1,-2h1v2h-1zm1,-1h1v1h-1zm1,-2h1v2h-1zm1,-1h1v1h-1zm1,-2h1v2h-1zm1,-1h1v1h-1zm1,-2h1v2h-1zm1,-1h1v1h-1zm1,-2h1v2h-1zm1,-1h1v1h-1zm1,-2h1v2h-1zm1,-1h1v1h-1zm1,-1h1v1h-1zm1,-2h1v2h-1zm1,-1h1v1h-1zm1,-1h1v1h-1zm1,-1h1v1h-1zm1,-1h2v1h-2zm2,-1h2v1h-2zm2,-1h3v1h-3zm3,1h2v1h-2zm2,1h2v1h-2zm2,1h1v1h-1zm1,1h1v1h-1zm1,1h1v1h-1zm1,1h1v1h-1zm1,1h1v1h-1zm1,1h1v1h-1zm1,1h1v1h-1zm1,1h1v1h-1zm1,1h1v2h-1zm1,2h1v2h-1zm1,2h1v2h-1zm1,2h1v2h-1zm1,2h1v3h-1zm1,3h1v2h-1zm1,2h1v3h-1zm1,3h1v3h-1zm1,3h1v3h-1zm1,3h1v3h-1zm1,3h1v3h-1zm1,3h1v3h-1zm1,3h1v3h-1zm1,3h1v3h-1zm1,3h1v3h-1zm1,3h1v3h-1zm1,3h1v2h-1zm1,2h1v3h-1zm1,3h1v2h-1zm1,2h1v3h-1zm1,3h1v2h-1zm1,2h1v2h-1zm1,2h1v2h-1zm1,2h1v3h-1zm1,3h1v2h-1zm1,2h1v2h-1zm1,2h1v2h-1zm1,2h1v3h-1zm1,3h1v2h-1zm1,2h1v2h-1zm1,2h1v2h-1zm1,2h1v3h-1zm1,3h1v2h-1zm1,2h1v2h-1zm1,2h1v2h-1zm1,2h1v3h-1zm1,3h1v2h-1zm1,2h1v2h-1zm1,2h1v2h-1zm1,2h1v3h-1zm1,3h1v2h-1zm1,2h1v2h-1zm1,2h1v2h-1zm1,2h1v2h-1zm1,2h1v1h-1zm1,1h1v2h-1zm1,2h1v1h-1zm1,1h1v1h-1zm1,1h1v1h-1zm1,1h2v1h-2zm2,1h2v1h-2zm2,1h4v1h-4zm4,-1h3v1h-3zm3,-1h2v1h-2zm2,-1h3v1h-3zm3,-1h3v1h-3zm3,-1h2v1h-2zm2,-1h2v1h-2zm2,-1h1v1h-1zm1,-1h1v1h-1zm1,-1h1v1h-1zm1,-1h1v1h-1zm1,-1h1v1h-1zm1,-1h1v1h-1zm1,-1h1v1h-1zm1,-1h1v1h-1zm1,-1h1v1h-1zm1,-2h1v2h-1zm1,-1h1v1h-1zm1,-1h1v1h-1zm1,-1h1v1h-1zm1,-1h1v1h-1zm1,-1h1v1h-1zm1,-1h1v1h-1zm1,-1h1v1h-1zm1,-2h1v2h-1zm1,-1h1v1h-1zm1,-1h1v1h-1zm1,-1h1v1h-1zm1,-2h1v2h-1zm1,-1h1v1h-1zm1,-1h1v1h-1zm1,-1h1v1h-1zm1,-1h1v1h-1zm1,-1h1v1h-1zm1,-1h1v1h-1zm1,-1h1v1h-1zm1,-1h1v1h-1zm1,-1h1v1h-1zm1,-1h1v1h-1zm1,-1h2v1h-2zm2,-1h7v1h-7zm7,-1h4v1h-4zm4,1h4v1h-4zm4,1h7v1h-7zm7,1h2v1h-2zm2,1h2v1h-2zm2,1h2v1h-2zm2,1h2v1h-2zm2,1h1v1h-1zm1,1h2v1h-2zm2,1h1v1h-1zm1,1h2v1h-2zm2,1h2v1h-2zm2,1h2v1h-2zm2,1h3v1h-3zm3,1h3v1h-3zm3,1h2v1h-2zm2,1h3v1h-3zm3,1h8v1h-8zm8,1h3v1h-3zm3,1h1v1h-1zm1,1h1v1h-1zm1,1h1v1h-1zm1,1h1v1h-1zm1,1h1v1h-1zm1,1h2v1h-2zm2,1h1v1h-1zm1,1h1v1h-1zm1,1h2v1h-2zm2,1h2v1h-2zm2,1h4v1h-4zm4,1h8v1h-8zm8,1h7v1h-7zm7,1h2v1h-2zm2,1h2v1h-2zm2,1h2v1h-2zm2,1h7v1h-7zm7,1h8v1h-8zm8,1h7v1h-7zm7,-1h2v1h-2zm2,-1h2v1h-2zm2,-1h1v1h-1zm1,-1h2v1h-2zm2,-1h1v1h-1zm1,-1h1v1h-1zm1,-1h1v1h-1zm1,-1h1v1h-1zm1,-1h1v1h-1zm1,-1h2v1h-2zm2,-1h3v1h-3zm3,-1h8v1h-8zm8,1h4v1h-4zm4,1h4v1h-4zm4,1h4v1h-4zm4,1h3v1h-3zm3,1h2v1h-2zm2,1h3v1h-3zm3,1h7v1h-7zm7,1h2v1h-2zm2,1h2v1h-2zm2,1h1v1h-1zm1,1h2v1h-2zm2,1h1v1h-1zm1,1h1v1h-1zm1,1h1v2h-1zm1,2h1v1h-1zm1,1h1v1h-1zm1,1h1v1h-1zm1,1h1v2h-1zm1,2h1v1h-1zm1,1h1v1h-1zm1,1h1v1h-1zm1,1h1v1h-1zm1,1h1v1h-1zm1,1h1v1h-1zm1,1h2v1h-2zm2,1h3v1h-3zm3,1h4v1h-4zm4,1h12v1h-12zm12,-1h4v1h-4zm4,-1h11v1h-11zm11,-1h2v1h-2zm2,-1h2v1h-2zm2,-1h1v1h-1zm1,-1h2v1h-2zm2,-1h1v1h-1zm1,-1h1v1h-1zm1,-1h1v1h-1zm1,-1h1v1h-1zm1,-1h1v1h-1zm1,-1h1v1h-1zm1,-1h1v1h-1zm1,-1h1v1h-1zm1,-1h1v1h-1zm1,-1h2v1h-2zm2,-1h2v1h-2zm2,-1h2v1h-2zm2,-1h3v1h-3zm3,-1h8v1h-8zm8,-1h8v1h-8zm8,1h3v1h-3zm3,1h2v1h-2zm2,1h2v1h-2zm2,1h1v2h-1zm1,2h1v1h-1zm1,1h1v2h-1zm1,2h1v1h-1zm1,1h1v2h-1zm1,2h1v1h-1zm1,1h1v2h-1zm1,2h1v1h-1zm1,1h1v2h-1zm1,2h1v2h-1zm1,2h1v2h-1zm1,2h1v2h-1zm1,2h1v2h-1zm1,2h1v2h-1zm1,2h1v2h-1zm1,2h1v2h-1zm1,2h1v2h-1zm1,2h1v2h-1zm1,2h1v2h-1zm1,2h1v2h-1zm1,2h1v1h-1zm1,1h1v2h-1zm1,2h1v1h-1zm1,1h2v1h-2zm2,1h12v1h-12zm12,1h4v1h-4zm4,1h4v1h-4zm4,-1h3v1h-3zm3,-1h2v1h-2zm2,-1h2v1h-2zm2,-1h1v1h-1zm1,-1h2v1h-2zm2,-1h1v1h-1zm1,-1h1v1h-1zm1,-2h1v2h-1zm1,-1h1v1h-1zm1,-1h1v1h-1zm1,-2h1v2h-1zm1,-1h1v1h-1zm1,-2h1v2h-1zm1,-1h1v1h-1zm1,-2h1v2h-1zm1,-2h1v2h-1zm1,-2h1v2h-1zm1,-1h1v1h-1zm1,-2h1v2h-1zm1,-2h1v2h-1zm1,-2h1v2h-1zm1,-1h1v1h-1zm1,-2h1v2h-1zm1,-2h1v2h-1zm1,-2h1v2h-1zm1,-1h1v1h-1zm1,-1h1v1h-1zm1,-1h1v1h-1zm1,-1h1v1h-1zm1,-1h1v1h-1zm1,-1h2v1h-2zm2,-1h7v1h-7zm7,-1h4v1h-4zm4,-1h8v1h-8zm8,1h3v1h-3zm3,1h2v1h-2zm2,1h2v1h-2zm2,1h2v1h-2zm2,1h2v1h-2zm2,1h2v1h-2zm2,1h3v1h-3zm3,1h4v1h-4zm4,-1h8v1h-8zm8,-1h4v1h-4zm4,-1h4v1h-4zm4,-1h7v1h-7zm7,1h2v1h-2zm2,1h2v1h-2zm2,1h1v1h-1zm1,1h1v1h-1zm1,1h1v1h-1zm1,1h1v1h-1zm1,1h1v1h-1zm1,1h2v1h-2zm2,1h1v1h-1zm1,1h2v1h-2zm2,1h3v1h-3zm3,1h3v1h-3zm3,1h2v1h-2zm2,1h3v1h-3zm3,1h3v1h-3zm3,1h2v1h-2zm2,1h2v1h-2zm2,1h1v1h-1zm1,1h2v1h-2zm2,1h1v1h-1zm1,1h1v1h-1zm1,1h2v1h-2zm2,1h1v1h-1zm1,1h1v1h-1zm1,1h1v1h-1zm1,1h1v1h-1zm1,1h1v1h-1zm1,1h1v1h-1zm1,1h1v2h-1zm1,2h1v1h-1zm1,1h1v1h-1zm1,1h1v1h-1zm1,1h1v2h-1zm1,2h1v1h-1zm1,1h1v1h-1zm1,1h1v1h-1zm1,1h1v2h-1zm1,2h1v1h-1zm1,1h1v1h-1zm1,1h2v1h-2zm2,1h3v1h-3zm3,1h4v1h-4zm4,1h8v1h-8zm8,1h3v1h-3zm3,1h2v1h-2zm2,1h2v1h-2zm2,1h1v2h-1zm1,2h1v1h-1zm1,1h1v2h-1zm1,2h1v1h-1zm1,1h1v2h-1zm1,2h1v2h-1zm1,2h1v2h-1zm1,2h1v1h-1zm1,1h1v2h-1zm1,2h1v2h-1zm1,2h1v2h-1zm1,2h1v1h-1zm1,1h1v2h-1zm1,2h1v2h-1zm1,2h1v2h-1zm1,2h1v3h-1zm1,3h1v3h-1zm1,3h1v2h-1zm1,2h1v3h-1zm1,3h1v3h-1zm1,3h1v3h-1zm1,3h1v2h-1zm1,2h1v3h-1zm1,3h1v3h-1zm1,3h1v3h-1zm1,3h1v2h-1zm1,2h1v3h-1zm1,3h1v3h-1zm1,3h1v2h-1zm1,2h1v3h-1zm1,3h1v2h-1zm1,2h1v3h-1zm1,3h1v3h-1zm1,3h1v3h-1zm1,3h1v3h-1zm1,3h1v3h-1zm1,3h1v3h-1zm1,3h1v4h-1zm1,4h1v3h-1zm1,3h1v3h-1zm1,3h1v4h-1zm1,4h1v4h-1zm1,4h1v4h-1zm1,4h1v4h-1zm1,4h1v4h-1zm1,4h1v4h-1zm1,4h1v4h-1zm1,4h1v3h-1zm1,3h1v4h-1zm1,4h1v4h-1zm1,4h1v4h-1zm1,4h1v4h-1zm1,4h1v4h-1zm1,4h1v4h-1zm1,4h1v4h-1zm1,4h1v3h-1zm1,3h1v3h-1zm1,3h1v2h-1zm1,2h1v3h-1zm1,3h1v2h-1zm1,2h1v2h-1zm1,2h1v2h-1zm1,2h1v2h-1zm1,2h1v2h-1zm1,2h1v2h-1zm1,2h1v2h-1zm1,2h1v2h-1zm1,2h1v1h-1zm1,1h1v1h-1zm1,1h1v2h-1zm1,2h1v1h-1zm1,1h1v1h-1zm1,1h1v1h-1zm1,1h2v1h-2zm2,1h1v1h-1zm1,1h1v1h-1zm1,1h2v1h-2zm2,1h1v1h-1zm1,1h1v1h-1zm1,1h2v1h-2zm2,1h1v1h-1zm1,1h1v1h-1zm1,1h1v1h-1zm1,1h1v1h-1zm1,1h1v1h-1zm1,1h2v1h-2zm2,1h3v1h-3zm3,-1h3v1h-3zm3,-1h2v1h-2zm2,-1h2v1h-2zm2,-1h1v1h-1zm1,-1h2v1h-2zm2,-1h1v1h-1zm1,-1h1v1h-1zm1,-1h2v1h-2zm2,-1h1v1h-1zm1,-2h1v2h-1zm1,-1h1v1h-1zm1,-2h1v2h-1zm1,-1h1v1h-1zm1,-2h1v2h-1zm1,-2h1v2h-1zm1,-2h1v2h-1zm1,-1h1v1h-1zm1,-2h1v2h-1zm1,-1h1v1h-1zm1,-2h1v2h-1zm1,-1h1v1h-1zm1,-1h1v1h-1zm1,-1h1v1h-1zm1,-1h1v1h-1zm1,-1h1v1h-1zm1,-1h1v1h-1zm1,-1h2v1h-2zm2,-1h1v1h-1zm1,-1h1v1h-1zm1,-1h2v1h-2zm2,-1h1v1h-1zm1,-1h2v1h-2zm2,-1h2v1h-2z" fill="#ff0000"/>
<path d="M2,338h2v1h-2zm2,-1h4v1h-4zm4,1h4v1h-4zm4,1h3v1h-3zm3,1h2v1h-2zm2,1h3v1h-3zm3,1h4v1h-4zm4,1h4v1h-4zm4,1h4v1h-4zm4,1h8v1h-8zm8,1h8v1h-8zm8,-1h3v1h-3zm3,-1h2v1h-2zm2,-1h2v1h-2zm2,-1h1v1h-1zm1,-1h2v1h-2zm2,-1h1v1h-1zm1,-1h1v1h-1zm1,-1h2v1h-2zm2,-1h1v1h-1zm1,-1h1v1h-1zm1,-1h1v1h-1zm1,-1h1v1h-1zm1,-1h1v1h-1zm1,-1h1v1h-1zm1,-1h1v1h-1zm1,-1h1v1h-1zm1,-1h1v1h-1zm1,-1h1v1h-1zm1,-1h2v1h-2zm2,-1h1v1h-1zm1,-1h1v1h-1zm1,-1h1v1h-1zm1,-1h1v1h-1zm1,-1h1v1h-1zm1,-1h1v1h-1zm1,-1h1v1h-1zm1,-1h1v1h-1zm1,-1h1v1h-1zm1,-1h1v1h-1zm1,-1h1v1h-1zm1,-1h1v1h-1zm1,-1h1v1h-1zm1,-1h1v1h-1zm1,-1h1v1h-1zm1,-1h1v1h-1zm1,-1h1v1h-1zm1,-1h1v1h-1zm1,-2h1v2h-1zm1,-1h1v1h-1zm1,-1h1v1h-1zm1,-1h1v1h-1zm1,-1h1v1h-1zm1,-1h1v1h-1zm1,-1h1v1h-1zm1,-1h1v1h-1zm1,-2h1v2h-1zm1,-1h1v1h-1zm1,-1h1v1h-1zm1,-1h1v1h-1zm1,-1h1v1h-1zm1,-1h1v1h-1zm1,-1h1v1h-1zm1,-1h1v1h-1zm1,-1h1v1h-1zm1,-1h1v1h-1zm1,-1h1v1h-1zm1,-1h1v1h-1zm1,-1h1v1h-1zm1,-1h1v1h-1zm1,-1h1v1h-1zm1,-1h1v1h-1zm1,-1h1v1h-1zm1,-1h1v1h-1zm1,-1h1v1h-1zm1,-1h1v1h-1zm1,-2h1v2h-1zm1,-1h1v1h-1zm1,-1h1v1h-1zm1,-1h1v1h-1zm1,-2h1v2h-1zm1,-1h1v1h-1zm1,-1h1v1h-1zm1,-2h1v2h-1zm1,-1h1v1h-1zm1,-2h1v2h-1zm1,-1h1v1h-1zm1,-1h1v1h-1zm1,-2h1v2h-1zm1,-1h1v1h-1zm1,-1h1v1h-1zm1,-2h1v2h-1zm1,-1h1v1h-1zm1,-2h1v2h-1zm1,-1h1v1h-1zm1,-2h1v2h-1zm1,-2h1v2h-1zm1,-2h1v2h-1zm1,-1h1v1h-1zm1,-2h1v2h-1zm1,-2h1v2h-1zm1,-2h1v2h-1zm1,-1h1v1h-1zm1,-2h1v2h-1zm1,-1h1v1h-1zm1,-2h1v2h-1zm1,-1h1v1h-1zm1,-1h1v1h-1zm1,-2h1v2h-1zm1,-1h1v1h-1zm1,-1h1v1h-1zm1,-1h1v1h-1zm1,-1h1v1h-1zm1,-1h1v1h-1zm1,-1h1v1h-1zm1,-1h1v1h-1zm1,-1h1v1h-1zm1,-1h1v1h-1zm1,-1h1v1h-1zm1,-1h2v1h-2zm2,-1h3v1h-3zm3,-1h4v1h-4zm4,-1h4v1h-4zm4,-1h4v1h-4zm4,-1h4v1h-4zm4,-1h4v1h-4zm4,-1h4v1h-4zm4,-1h8v1h-8zm8,1h4v1h-4zm4,1h4v1h-4zm4,1h4v1h-4zm4,1h4v1h-4zm4,1h12v1h-12zm12,-1h8v1h-8zm8,-1h4v1h-4zm4,-1h4v1h-4zm4,-1h3v1h-3zm3,-1h2v1h-2zm2,-1h3v1h-3zm3,-1h4v1h-4zm4,-1h4v1h-4zm4,-1h4v1h-4zm4,1h8v1h-8zm8,-1h4v1h-4zm4,-1h4v1h-4zm4,-1h4v1h-4zm4,-1h4v1h-4zm4,-1h4v1h-4zm4,-1h4v1h-4zm4,-1h4v1h-4zm4,-1h3v1h-3zm3,-1h2v1h-2zm2,-1h2v1h-2zm2,-1h2v1h-2zm2,-1h3v1h-3zm3,-1h3v1h-3zm3,-1h2v1h-2zm2,-1h3v1h-3zm3,-1h3v1h-3zm3,-1h2v1h-2zm2,-1h2v1h-2zm2,-1h2v1h-2zm2,-1h2v1h-2zm2,-1h2v1h-2zm2,-1h3v1h-3zm3,-1h4v1h-4zm4,-1h11v1h-11zm11,1h2v1h-2zm2,1h3v1h-3zm3,1h3v1h-3zm3,1h2v1h-2zm2,1h2v1h-2zm2,1h2v1h-2zm2,1h2v1h-2zm2,1h2v1h-2zm2,1h3v1h-3zm3,1h3v1h-3zm3,1h2v1h-2zm2,1h3v1h-3zm3,1h3v1h-3zm3,1h2v1h-2zm2,1h2v1h-2zm2,1h1v1h-1zm1,1h2v1h-2zm2,1h1v1h-1zm1,1h2v1h-2zm2,1h2v1h-2zm2,1h1v1h-1zm1,1h2v1h-2zm2,1h1v1h-1zm1,1h2v1h-2zm2,1h3v1h-3zm3,1h8v1h-8zm8,1h8v1h-8zm8,1h3v1h-3zm3,1h2v1h-2zm2,1h2v1h-2zm2,1h2v1h-2zm2,1h3v1h-3zm3,1h3v1h-3zm3,1h2v1h-2zm2,1h3v1h-3zm3,1h12v1h-12zm12,-1h8v1h-8zm8,-1h3v1h-3zm3,-1h1v1h-1zm1,-1h2v1h-2zm2,-1h1v1h-1zm1,-1h1v1h-1zm1,-1h1v1h-1zm1,-1h1v1h-1zm1,-1h1v1h-1zm1,-1h1v1h-1zm1,-2h1v2h-1zm1,-1h1v1h-1zm1,-1h1v1h-1zm1,-2h1v2h-1zm1,-1h1v1h-1zm1,-2h1v2h-1zm1,-1h1v1h-1zm1,-1h1v1h-1zm1,-2h1v2h-1zm1,-1h1v1h-1zm1,-1h1v1h-1zm1,-2h1v2h-1zm1,-1h1v1h-1zm1,-2h1v2h-1zm1,-1h1v1h-1zm1,-1h1v1h-1zm1,-1h1v1h-1zm1,-1h1v1h-1zm1,-1h1v1h-1zm1,-1h1v1h-1zm1,-1h1v1h-1zm1,-1h1v1h-1zm1,-1h1v1h-1zm1,-1h1v1h-1zm1,-1h2v1h-2zm2,-1h1v1h-1zm1,-1h1v1h-1zm1,-1h2v1h-2zm2,-1h1v1h-1zm1,-1h1v1h-1zm1,-1h2v1h-2zm2,-1h1v1h-1zm1,-1h1v1h-1zm1,-1h1v1h-1zm1,-1h1v1h-1zm1,-1h1v1h-1zm1,-1h1v1h-1zm1,-2h1v2h-1zm1,-1h1v1h-1zm1,-1h1v1h-1zm1,-1h1v1h-1zm1,-2h1v2h-1zm1,-1h1v1h-1zm1,-1h1v1h-1zm1,-1h1v1h-1zm1,-2h1v2h-1zm1,-1h1v1h-1zm1,-1h1v1h-1zm1,-1h1v1h-1zm1,-1h1v1h-1zm1,-1h1v1h-1zm1,-1h1v1h-1zm1,-1h1v1h-1zm1,-1h1v1h-1zm1,-1h1v1h-1zm1,-1h1v1h-1zm1,-1h2v1h-2zm2,-1h3v1h-3zm3,-1h11v1h-11zm11,1h2v1h-2zm2,1h3v1h-3zm3,1h4v1h-4zm4,1h4v1h-4zm4,1h3v1h-3zm3,1h2v1h-2zm2,1h2v1h-2zm2,1h2v1h-2zm2,1h2v1h-2zm2,1h2v1h-2zm2,1h2v1h-2zm2,1h2v1h-2zm2,1h3v1h-3zm3,1h3v1h-3zm3,1h2v1h-2zm2,1h2v1h-2zm2,1h2v1h-2zm2,1h2v1h-2zm2,1h1v1h-1zm1,1h2v1h-2zm2,1h1v1h-1zm1,1h1v1h-1zm1,1h2v1h-2zm2,1h1v1h-1zm1,1h1v1h-1zm1,1h1v1h-1zm1,1h1v1h-1zm1,1h1v1h-1zm1,1h1v1h-1zm1,1h1v1h-1zm1,1h1v1h-1zm1,1h1v1h-1zm1,1h1v1h-1zm1,1h1v1h-1zm1,1h1v1h-1zm1,1h1v1h-1zm1,1h1v1h-1zm1,1h2v1h-2zm2,1h1v1h-1zm1,1h1v1h-1zm1,1h2v1h-2zm2,1h1v1h-1zm1,1h1v1h-1zm1,1h2v1h-2zm2,1h2v1h-2zm2,1h3v1h-3zm3,1h2v1h-2zm2,1h2v1h-2zm2,1h2v1h-2zm2,1h2v1h-2zm2,1h2v1h-2zm2,1h2v1h-2zm2,1h2v1h-2zm2,1h3v1h-3zm3,1h4v1h-4zm4,1h4v1h-4zm4,1h4v1h-4zm4,1h12v1h-12zm12,-1h4v1h-4zm4,-1h4v1h-4zm4,-1h3v1h-3zm3,-1h2v1h-2zm2,-1h3v1h-3zm3,-1h3v1h-3zm3,-1h2v1h-2zm2,-1h3v1h-3zm3,-1h4v1h-4zm4,-1h11v1h-11zm11,1h2v1h-2zm2,1h3v1h-3zm3,1h3v1h-3zm3,1h2v1h-2zm2,1h3v1h-3zm3,1h8v1h-8zm8,1h4v1h-4zm4,1h4v1h-4zm4,1h4v1h-4zm4,1h4v1h-4zm4,1h3v1h-3zm3,1h2v1h-2zm2,1h3v1h-3zm3,1h4v1h-4zm4,1h4v1h-4zm4,1h4v1h-4zm4,1h36v1h-36zm36,1h4v1h-4zm4,1h4v1h-4zm4,1h3v1h-3zm3,1h2v1h-2zm2,1h3v1h-3zm3,1h4v1h-4zm4,1h3v1h-3zm3,1h2v1h-2zm2,1h3v1h-3zm3,1h4v1h-4zm4,1h32v1h-32zm32,1h24v1h-24zm24,1h4v1h-4zm4,1h4v1h-4zm4,1h19v1h-19zm19,1h2v1h-2zm2,1h2v1h-2zm2,1h2v1h-2zm2,1h2v1h-2zm2,1h2v1h-2zm2,1h2v1h-2zm2,1h1v1h-1zm1,1h1v1h-1zm1,1h1v1h-1zm1,1h1v1h-1zm1,1h2v1h-2zm2,1h2v1h-2zm2,1h2v1h-2zm2,1h3v1h-3zm3,1h8v1h-8zm8,-1h8v1h-8zm8,-1h4v1h-4zm4,-1h8v1h-8zm8,-1h28v1h-28zm28,1h8v1h-8zm8,1h8v1h-8zm8,-1h8v1h-8zm8,1h8v1h-8zm8,1h8v1h-8zm8,-1h3v1h-3zm3,-1h1v1h-1zm1,-1h2v1h-2zm2,-1h1v1h-1zm1,-1h1v1h-1zm1,-1h2v1h-2zm2,-1h1v1h-1zm1,-1h1v1h-1zm1,-1h2v1h-2zm2,-1h1v1h-1zm1,-1h1v1h-1zm1,-1h1v1h-1zm1,-1h1v1h-1zm1,-1h1v1h-1zm1,-1h1v1h-1zm1,-1h2v1h-2zm2,-1h1v1h-1zm1,-1h2v1h-2zm2,-1h7v1h-7zm7,1h4v1h-4zm4,1h3v1h-3zm3,1h2v1h-2zm2,1h3v1h-3zm3,1h4v1h-4zm4,1h4v1h-4zm4,1h3v1h-3zm3,1h2v1h-2zm2,1h2v1h-2zm2,1h2v1h-2zm2,1h2v1h-2zm2,1h2v1h-2zm2,1h3v1h-3zm3,1h4v1h-4zm4,1h3v1h-3zm3,1h2v1h-2zm2,1h3v1h-3zm3,1h3v1h-3zm3,1h2v1h-2zm2,1h2v1h-2zm2,1h2v1h-2zm2,1h2v1h-2zm2,1h2v1h-2zm2,1h2v1h-2zm2,1h2v1h-2zm2,1h2v1h-2zm2,1h2v1h-2zm2,1h2v1h-2zm2,1h2v1h-2zm2,1h2v1h-2zm2,1h1v1h-1zm1,1h2v1h-2zm2,1h1v1h-1zm1,1h1v1h-1zm1,1h1v1h-1zm1,1h1v1h-1zm1,1h1v1h-1zm1,1h1v1h-1zm1,1h1v1h-1zm1,1h1v1h-1zm1,1h1v1h-1zm1,1h1v1h-1zm1,1h1v2h-1zm1,2h1v1h-1zm1,1h1v1h-1zm1,1h1v2h-1zm1,2h1v1h-1zm1,1h1v2h-1zm1,2h1v1h-1zm1,1h1v2h-1zm1,2h1v2h-1zm1,2h1v2h-1zm1,2h1v1h-1zm1,1h1v2h-1zm1,2h1v2h-1zm1,2h1v2h-1zm1,2h1v2h-1zm1,2h1v2h-1zm1,2h1v2h-1zm1,2h1v2h-1zm1,2h1v2h-1zm1,2h1v2h-1zm1,2h1v2h-1zm1,2h1v2h-1zm1,2h1v2h-1zm1,2h1v2h-1zm1,2h1v2h-1zm1,2h1v2h-1zm1,2h1v1h-1zm1,1h1v2h-1zm1,2h1v2h-1zm1,2h1v2h-1zm1,2h1v2h-1zm1,2h1v2h-1zm1,2h1v2h-1zm1,2h1v2h-1zm1,2h1v1h-1zm1,1h1v2h-1zm1,2h1v2h-1zm1,2h1v2h-1zm1,2h1v2h-1zm1,2h1v2h-1zm1,2h1v2h-1zm1,2h1v2h-1zm1,2h1v2h-1zm1,2h1v2h-1zm1,2h1v2h-1zm1,2h1v2h-1zm1,2h1v2h-1zm1,2h1v2h-1zm1,2h1v2h-1zm1,2h1v2h-1zm1,2h1v1h-1zm1,1h1v2h-1zm1,2h1v2h-1zm1,2h1v2h-1zm1,2h1v1h-1zm1,1h1v2h-1zm1,2h1v2h-1zm1,2h1v2h-1zm1,2h1v1h-1zm1,1h1v2h-1zm1,2h1v2h-1zm1,2h1v2h-1zm1,2h1v1h-1zm1,1h1v2h-1zm1,2h1v2h-1zm1,2h1v2h-1zm1,2h1v1h-1zm1,1h1v2h-1zm1,2h1v2h-1zm1,2h1v2h-1zm1,2h1v1h-1zm1,1h1v2h-1zm1,2h1v2h-1zm1,2h1v2h-1zm1,2h1v1h-1zm1,1h1v2h-1zm1,2h1v2h-1zm1,2h1v2h-1zm1,2h1v1h-1zm1,1h1v2h-1zm1,2h1v1h-1zm1,1h1v2h-1zm1,2h1v1h-1zm1,1h1v1h-1zm1,1h1v2h-1zm1,2h1v1h-1zm1,1h1v1h-1zm1,1h1v2h-1zm1,2h1v1h-1zm1,1h1v2h-1zm1,2h1v1h-1zm1,1h1v2h-1zm1,2h1v1h-1zm1,1h1v2h-1zm1,2h1v1h-1zm1,1h1v1h-1zm1,1h1v1h-1zm1,1h1v1h-1zm1,1h1v1h-1zm1,1h1v1h-1zm1,1h1v1h-1zm1,1h1v1h-1zm1,1h1v1h-1zm1,1h1v1h-1zm1,1h2v1h-2zm2,1h1v1h-1zm1,1h1v1h-1zm1,1h2v1h-2zm2,1h1v1h-1zm1,1h2v1h-2zm2,1h3v1h-3zm3,1h4v1h-4zm4,1h3v1h-3z" fill="#0000cd"/>
</g>
<g class="cr">
<rect x="2" y="38" width="1610" height="2" fill="#ff0000"/>
<path d="M1,36h6v6h-6zM3,38v2h2v-2z M1604,36h6v6h-6zM1606,38v2h2v-2z" fill="#ff0000" fill-rule="evenodd"/>
<rect x="3" y="38" width="2" height="2" fill="#fff"/><rect x="1606" y="38" width="2" height="2" fill="#fff"/>
<rect x="2" y="148" width="1610" height="2" fill="#ff0000"/>
<path d="M1,146h6v6h-6zM3,148v2h2v-2z M1604,146h6v6h-6zM1606,148v2h2v-2z" fill="#ff0000" fill-rule="evenodd"/>
<rect x="3" y="148" width="2" height="2" fill="#fff"/><rect x="1606" y="148" width="2" height="2" fill="#fff"/>
<rect x="2" y="286" width="1610" height="2" fill="#00ff00"/>
<path d="M1,284h6v6h-6zM3,286v2h2v-2z M1604,284h6v6h-6zM1606,286v2h2v-2z" fill="#00ff00" fill-rule="evenodd"/>
<rect x="3" y="286" width="2" height="2" fill="#fff"/><rect x="1606" y="286" width="2" height="2" fill="#fff"/>
<rect x="2" y="418" width="1610" height="2" fill="#0000ff"/>
<path d="M5,35h7v1h-7zM6,36h5v1h-5zM7,37h3v1h-3zM8,38h1v1h-1z" fill="#000"/>
</g>
<g class="cr" fill="#000">
<rect x="1611" y="59" width="2" height="1"/>
<rect x="1611" y="92" width="2" height="1"/>
<rect x="1611" y="125" width="2" height="1"/>
<rect x="1611" y="158" width="2" height="1"/>
<rect x="1611" y="191" width="2" height="1"/>
<rect x="1611" y="224" width="2" height="1"/>
<rect x="1611" y="257" width="2" height="1"/>
<rect x="1611" y="290" width="2" height="1"/>
<rect x="1611" y="323" width="2" height="1"/>
<rect x="1611" y="356" width="2" height="1"/>
<rect x="1611" y="389" width="2" height="1"/>
<rect x="1611" y="422" width="2" height="1"/>
<rect x="1611" y="455" width="2" height="1"/>
<rect x="1611" y="488" width="2" height="1"/>
<rect x="1611" y="521" width="2" height="1"/>
<rect x="1611" y="554" width="2" height="1"/>
<rect x="1611" y="590" width="2" height="1"/>
<rect x="1611" y="657" width="2" height="1"/>
<rect x="1611" y="528" width="1" height="1"/>
<rect x="1611" y="616" width="1" height="1"/>
<rect x="1611" y="621" width="1" height="1"/>
<rect x="1611" y="708" width="1" height="1"/>
</g>
<text x="1616.04" y="63" font-size="10.2" textLength="33.12" lengthAdjust="spacingAndGlyphs">0.78840</text>
<text x="1616.04" y="96" font-size="10.2" textLength="33.14" lengthAdjust="spacingAndGlyphs">0.78545</text>
<text x="1616.04" y="129" font-size="10.2" textLength="33.12" lengthAdjust="spacingAndGlyphs">0.78250</text>
<text x="1616.04" y="162" font-size="10.2" textLength="33.12" lengthAdjust="spacingAndGlyphs">0.77950</text>
<text x="1616.04" y="195" font-size="10.2" textLength="33.14" lengthAdjust="spacingAndGlyphs">0.77655</text>
<text x="1616.04" y="228" font-size="10.2" textLength="33.14" lengthAdjust="spacingAndGlyphs">0.77355</text>
<text x="1616.04" y="261" font-size="10.2" textLength="33.12" lengthAdjust="spacingAndGlyphs">0.77060</text>
<text x="1616.04" y="294" font-size="10.2" textLength="33.12" lengthAdjust="spacingAndGlyphs">0.76760</text>
<text x="1616.04" y="327" font-size="10.2" textLength="33.14" lengthAdjust="spacingAndGlyphs">0.76465</text>
<text x="1616.04" y="360" font-size="10.2" textLength="33.14" lengthAdjust="spacingAndGlyphs">0.76165</text>
<text x="1616.04" y="393" font-size="10.2" textLength="33.12" lengthAdjust="spacingAndGlyphs">0.75870</text>
<text x="1616.04" y="426" font-size="10.2" textLength="33.12" lengthAdjust="spacingAndGlyphs">0.75570</text>
<text x="1616.04" y="459" font-size="10.2" textLength="33.14" lengthAdjust="spacingAndGlyphs">0.75275</text>
<text x="1616.04" y="492" font-size="10.2" textLength="33.12" lengthAdjust="spacingAndGlyphs">0.74980</text>
<text x="1616.04" y="525" font-size="10.2" textLength="33.12" lengthAdjust="spacingAndGlyphs">0.74680</text>
<rect class="cr" x="1612" y="33" width="39" height="11" fill="#ff0000"/>
<text class="w" x="1616.04" y="42" font-size="10.2" textLength="32.96" lengthAdjust="spacingAndGlyphs">0.79023</text>
<rect class="cr" x="1612" y="143" width="39" height="11" fill="#ff0000"/>
<text class="w" x="1616.04" y="152" font-size="10.2" textLength="33.02" lengthAdjust="spacingAndGlyphs">0.78032</text>
<rect class="cr" x="1612" y="281" width="39" height="11" fill="#00ff00"/>
<text class="w" x="1616.05" y="290" font-size="10.2" textLength="32.82" lengthAdjust="spacingAndGlyphs">0.76794</text>
<rect class="cr" x="1612" y="398" width="39" height="11" fill="#000000"/>
<text class="w" x="1616.04" y="407" font-size="10.2" textLength="32.95" lengthAdjust="spacingAndGlyphs">0.75748</text>
<rect class="cr" x="1612" y="413" width="39" height="11" fill="#0000ff"/>
<text class="w" x="1616.04" y="422" font-size="10.2" textLength="32.96" lengthAdjust="spacingAndGlyphs">0.75603</text>
<text x="1614.11" y="537" font-size="10.2" textLength="15.10" lengthAdjust="spacingAndGlyphs">100</text>
<text x="1614.35" y="558" font-size="10.2" textLength="9.66" lengthAdjust="spacingAndGlyphs">70</text>
<text x="1614.47" y="594" font-size="10.2" textLength="9.54" lengthAdjust="spacingAndGlyphs">30</text>
<text x="1614.50" y="614" font-size="10.2" textLength="4.29" lengthAdjust="spacingAndGlyphs">0</text>
<text x="1614.44" y="630" font-size="10.2" textLength="38.45" lengthAdjust="spacingAndGlyphs">0.003808</text>
<text x="1614.45" y="660" font-size="10.2" textLength="17.65" lengthAdjust="spacingAndGlyphs">0.00</text>
<text x="1614.39" y="706" font-size="10.2" textLength="42.02" lengthAdjust="spacingAndGlyphs">-0.005757</text>
<g class="cr">
<path d="M3,554.5H1610M3,590.5H1610" stroke="#c0c0c0" stroke-width="1" stroke-dasharray="3,3" fill="none"/>
<path d="M2,576h1v1h-1zm1,-1h1v1h-1zm1,-1h1v1h-1zm1,-1h1v1h-1zm1,-1h1v1h-1zm1,1h2v1h-2zm2,1h10v1h-10zm10,1h2v1h-2zm2,1h2v1h-2zm2,1h2v1h-2zm2,1h2v1h-2zm2,-1h1v1h-1zm1,-1h1v1h-1zm1,-1h1v1h-1zm1,-1h1v1h-1zm1,-1h1v1h-1zm1,-1h1v1h-1zm1,-1h1v1h-1zm1,-1h5v1h-5zm5,-2h1v2h-1zm1,-1h1v1h-1zm1,-2h1v2h-1zm1,-1h5v1h-5zm5,-1h1v1h-1zm1,-1h1v1h-1zm1,-2h1v2h-1zm1,-1h1v1h-1zm1,-1h1v1h-1zm1,-1h1v1h-1zm1,-1h2v1h-2zm2,-1h2v1h-2zm2,-1h2v1h-2zm2,-1h1v1h-1zm1,-2h1v2h-1zm1,-1h1v1h-1zm1,-1h3v1h-3zm3,1h4v1h-4zm4,1h1v1h-1zm1,1h1v1h-1zm1,1h2v1h-2zm2,1h1v1h-1zm1,1h1v1h-1zm1,-1h1v1h-1zm1,-2h1v2h-1zm1,-1h1v1h-1zm1,-1h4v1h-4zm4,1h8v1h-8zm8,1h1v2h-1zm1,2h1v1h-1zm1,1h1v2h-1zm1,2h1v2h-1zm1,2h1v1h-1zm1,-1h1v1h-1zm1,-1h2v1h-2zm2,-1h5v1h-5zm5,1h1v1h-1zm1,1h1v2h-1zm1,2h1v1h-1zm1,1h7v1h-7zm7,1h2v1h-2zm2,1h2v1h-2zm2,1h2v1h-2zm2,-1h1v1h-1zm1,-2h1v2h-1zm1,-1h1v1h-1zm1,-1h1v1h-1zm1,-2h1v2h-1zm1,-1h1v1h-1zm1,-2h1v2h-1zm1,-1h1v1h-1zm1,1h2v1h-2zm2,1h1v1h-1zm1,1h1v1h-1zm1,1h1v1h-1zm1,1h1v2h-1zm1,2h1v1h-1zm1,1h5v1h-5zm5,-2h1v2h-1zm1,-2h1v2h-1zm1,-2h1v2h-1zm1,-1h2v1h-2zm2,-1h2v1h-2zm2,1h1v2h-1zm1,2h1v1h-1zm1,1h1v1h-1zm1,1h1v2h-1zm1,2h4v1h-4zm3,1h1v1h-1zm1,1h1v2h-1zm1,2h1v2h-1zm1,2h1v2h-1zm1,2h1v2h-1zm1,2h1v1h-1zm1,1h1v1h-1zm1,1h1v2h-1zm1,2h1v1h-1zm1,1h3v1h-3zm3,1h4v1h-4zm4,1h2v1h-2zm2,-1h2v1h-2zm2,-1h5v1h-5zm5,-2h1v2h-1zm1,-1h1v1h-1zm1,-2h1v2h-1zm1,-2h1v2h-1zm1,-1h8v1h-8zm8,1h2v1h-2zm2,1h2v1h-2zm2,1h2v1h-2zm2,-1h2v1h-2zm2,1h1v2h-1zm1,2h1v1h-1zm1,1h1v1h-1zm1,1h1v2h-1zm1,2h2v1h-2zm2,-1h2v1h-2zm2,1h1v1h-1zm1,1h1v1h-1zm1,1h1v1h-1zm1,1h1v1h-1zm1,1h1v1h-1zm1,-2h1v2h-1zm1,-1h1v1h-1zm1,-2h1v2h-1zm1,-1h1v1h-1zm1,-1h2v1h-2zm2,-1h3v1h-3zm3,-1h4v1h-4zm4,-1h4v1h-4zm4,-1h3v1h-3zm3,-1h1v1h-1zm1,-1h1v1h-1zm1,-1h1v1h-1zm1,-1h1v1h-1zm1,-1h1v1h-1zm1,-1h1v1h-1zm1,-1h1v1h-1zm1,-1h1v1h-1zm1,1h1v1h-1zm1,1h2v1h-2zm2,1h1v1h-1zm1,-1h1v1h-1zm1,-2h1v2h-1zm1,-1h1v1h-1zm1,-1h1v1h-1zm1,-1h1v1h-1zm1,-2h1v2h-1zm1,-1h1v1h-1zm1,-1h1v1h-1zm1,1h1v1h-1zm1,1h1v1h-1zm1,1h3v1h-3zm3,1h3v1h-3zm3,1h1v1h-1zm1,1h2v1h-2zm2,1h2v1h-2zm2,-1h3v1h-3zm2,1h1v1h-1zm1,1h1v2h-1zm1,2h1v2h-1zm1,2h1v2h-1zm1,2h1v1h-1zm0,1h10v1h-10zm10,1h2v1h-2zm2,1h1v1h-1zm1,1h1v2h-1zm1,2h1v2h-1zm1,2h1v2h-1zm1,2h2v1h-2zm0,1h1v1h-1zm2,-2h1v1h-1zm1,-1h2v1h-2zm2,-1h4v1h-4zm4,-1h2v1h-2zm2,-1h2v1h-2zm2,-1h1v1h-1zm1,-1h1v1h-1zm1,-1h1v1h-1zm1,-1h1v1h-1zm1,-2h1v2h-1zm1,-2h1v2h-1zm1,-2h1v2h-1zm1,-1h1v1h-1zm1,-1h1v1h-1zm1,-1h2v1h-2zm2,-1h1v1h-1zm1,1h1v1h-1zm1,1h1v2h-1zm1,2h1v1h-1zm1,1h1v1h-1zm1,1h1v1h-1zm1,1h1v1h-1zm1,1h1v1h-1zm1,1h1v1h-1zm1,1h2v1h-2zm2,1h2v1h-2zm2,1h1v1h-1zm1,1h1v2h-1zm1,2h1v1h-1zm1,1h1v1h-1zm1,-1h1v1h-1zm1,-1h1v1h-1zm1,-1h1v1h-1zm1,-1h2v1h-2zm2,-1h3v1h-3zm3,1h5v1h-5zm5,1h3v1h-3zm3,1h1v1h-1zm1,1h1v2h-1zm1,2h1v1h-1zm1,1h1v2h-1zm1,2h1v2h-1zm1,2h1v2h-1zm1,2h1v1h-1zm1,1h2v1h-2zm2,1h2v1h-2zm2,1h1v1h-1zm1,-1h1v1h-1zm1,-1h1v1h-1zm1,-1h1v1h-1zm1,-1h1v1h-1zm1,-1h2v1h-2zm2,-1h2v1h-2zm2,-2h1v2h-1zm1,-1h1v1h-1zm1,-2h1v2h-1zm1,-1h1v1h-1zm1,-1h1v1h-1zm1,-1h1v1h-1zm1,-1h1v1h-1zm1,-1h2v1h-2zm2,1h4v1h-4zm4,-1h3v1h-3zm3,1h1v1h-1zm1,1h1v2h-1zm1,2h1v1h-1zm1,1h5v1h-5zm5,1h1v1h-1zm1,1h1v2h-1zm1,2h1v1h-1zm1,1h1v1h-1zm1,1h2v1h-2zm2,1h2v1h-2zm2,1h1v1h-1zm1,1h1v1h-1zm1,1h1v1h-1zm1,1h1v1h-1zm1,-2h1v2h-1zm1,-2h1v2h-1zm1,-2h1v2h-1zm1,-1h1v1h-1zm1,-1h1v1h-1zm1,-2h1v2h-1zm1,-1h1v1h-1zm1,-1h2v1h-2zm2,1h4v1h-4zm4,1h3v1h-3zm3,-1h1v1h-1zm1,-1h1v1h-1zm1,-1h1v1h-1zm1,-1h1v1h-1zm1,-1h1v1h-1zm1,-1h1v1h-1zm1,-1h2v1h-2zm2,1h3v1h-3zm3,-1h2v1h-2zm2,-1h2v1h-2zm2,1h1v1h-1zm1,1h2v1h-2zm2,1h1v1h-1zm1,1h1v1h-1zm1,-1h1v1h-1zm1,-1h2v1h-2zm2,-1h2v1h-2zm2,-1h3v1h-3zm3,-1h1v1h-1zm1,-1h2v1h-2zm2,-1h1v1h-1zm1,-1h1v1h-1zm1,-1h1v1h-1zm1,-1h1v1h-1zm1,-1h5v1h-5zm5,1h1v1h-1zm1,1h1v1h-1zm1,1h1v1h-1zm1,1h2v1h-2zm2,-1h3v1h-3zm3,-2h1v2h-1zm1,-2h1v2h-1zm1,-2h1v2h-1zm1,-1h1v1h-1zm1,-2h1v2h-1zm1,-2h1v2h-1zm1,-2h1v2h-1zm1,-1h1v1h-1zm1,1h1v2h-1zm1,2h1v2h-1zm1,2h2v1h-2zm2,1h2v1h-2zm2,1h2v1h-2zm2,-1h1v1h-1zm1,-1h2v1h-2zm2,-1h1v1h-1zm1,-1h1v1h-1zm1,-1h2v1h-2zm2,-1h1v1h-1zm1,1h1v1h-1zm1,1h1v2h-1zm1,2h1v1h-1zm1,1h2v1h-2zm2,-1h3v1h-3zm3,1h1v2h-1zm1,2h1v2h-1zm1,2h1v2h-1zm1,2h1v2h-1zm1,2h1v1h-1zm1,1h2v1h-2zm2,1h1v1h-1zm1,-1h2v1h-2zm2,-1h2v1h-2zm2,-1h2v1h-2zm2,-1h6v1h-6zm6,1h2v1h-2zm2,1h2v1h-2zm2,1h2v1h-2zm2,1h2v1h-2zm2,1h1v2h-1zm1,2h1v2h-1zm1,2h1v2h-1zm1,2h1v1h-1zm1,1h1v1h-1zm1,1h1v1h-1zm1,1h1v1h-1zm1,1h1v1h-1zm1,-1h2v1h-2zm2,-1h2v1h-2zm2,1h1v1h-1zm1,1h1v1h-1zm1,1h1v1h-1zm1,1h1v2h-1zm1,2h1v1h-1zm1,1h1v2h-1zm1,2h1v2h-1zm1,2h1v1h-1zm1,1h2v1h-2zm2,1h2v1h-2zm2,-1h1v1h-1zm1,-2h1v2h-1zm1,-1h1v1h-1zm1,-1h1v1h-1zm1,1h1v1h-1zm1,1h1v2h-1zm1,2h1v1h-1zm1,1h2v1h-2zm2,1h2v1h-2zm2,-2h1v2h-1zm1,-2h1v2h-1zm1,-2h1v2h-1zm1,-2h1v2h-1zm1,-1h2v1h-2zm2,1h4v1h-4zm4,-1h4v1h-4zm4,1h3v1h-3zm3,-1h1v1h-1zm1,-1h2v1h-2zm2,-1h2v1h-2zm2,1h3v1h-3zm3,-2h1v2h-1zm1,-2h1v2h-1zm1,-2h1v2h-1zm1,-2h1v2h-1zm1,-1h2v1h-2zm2,-1h3v1h-3zm3,-1h3v1h-3zm3,1h1v2h-1zm1,2h1v1h-1zm1,1h1v2h-1zm1,2h2v1h-2zm2,-1h3v1h-3zm3,1h2v1h-2zm2,1h2v1h-2zm2,-1h1v1h-1zm1,-1h2v1h-2zm2,-1h6v1h-6zm6,-1h3v1h-3zm3,-1h1v1h-1zm1,-1h1v1h-1zm1,-1h1v1h-1zm1,-1h2v1h-2zm2,1h3v1h-3zm3,-1h1v1h-1zm1,-1h2v1h-2zm2,-1h1v1h-1zm1,1h2v1h-2zm2,1h2v1h-2zm2,1h1v1h-1zm1,1h2v1h-2zm2,1h1v1h-1zm1,-1h1v1h-1zm1,-1h1v1h-1zm1,-1h1v1h-1zm1,-1h1v1h-1zm1,1h1v1h-1zm1,1h2v1h-2zm2,1h2v1h-2zm2,-1h3v1h-3zm2,1h1v1h-1zm1,1h1v3h-1zm1,3h1v2h-1zm1,2h1v3h-1zm1,3h2v1h-2zm0,1h1v1h-1zm2,-2h1v1h-1zm1,-1h4v1h-4zm4,1h2v1h-2zm2,1h1v1h-1zm1,1h1v1h-1zm1,1h1v1h-1zm1,1h1v1h-1zm1,-1h1v1h-1zm1,-1h2v1h-2zm2,-1h1v1h-1zm1,-1h2v1h-2zm2,-1h3v1h-3zm3,1h3v1h-3zm3,-2h1v2h-1zm1,-2h1v2h-1zm1,-2h1v2h-1zm1,-1h2v1h-2zm2,-1h4v1h-4zm4,1h3v1h-3zm3,1h1v1h-1zm1,1h2v1h-2zm2,1h1v1h-1zm1,1h2v1h-2zm2,1h2v1h-2zm2,-1h1v1h-1zm1,-1h2v1h-2zm2,-1h1v1h-1zm1,1h2v1h-2zm2,1h2v1h-2zm2,1h1v2h-1zm1,2h1v1h-1zm1,1h1v2h-1zm1,2h2v1h-2zm2,-1h3v1h-3zm3,1h2v1h-2zm2,1h2v1h-2zm2,-1h1v1h-1zm1,-1h2v1h-2zm2,-1h2v1h-2zm2,1h3v1h-3zm3,-2h1v2h-1zm1,-1h1v1h-1zm1,-2h1v2h-1zm1,-1h1v1h-1zm1,1h2v1h-2zm2,1h2v1h-2zm2,-1h1v1h-1zm1,-1h1v1h-1zm1,-1h1v1h-1zm1,-1h2v1h-2zm2,1h7v1h-7zm7,-1h1v1h-1zm1,-1h2v1h-2zm2,-1h1v1h-1zm1,1h2v1h-2zm2,1h2v1h-2zm2,1h1v1h-1zm1,1h1v2h-1zm1,2h1v1h-1zm1,1h1v1h-1zm1,-1h1v1h-1zm1,-1h2v1h-2zm2,-1h1v1h-1zm1,-1h2v1h-2zm2,-1h2v1h-2zm2,-2h1v2h-1zm1,-2h1v2h-1zm1,-2h1v2h-1zm1,-2h2v1h-2zm0,1h1v1h-1zm2,0h3v1h-3zm2,1h1v1h-1zm1,1h1v2h-1zm1,2h1v3h-1zm1,3h1v2h-1zm1,2h1v1h-1zm0,1h2v1h-2zm2,1h7v1h-7zm7,1h1v1h-1zm1,1h2v1h-2zm2,1h1v1h-1zm1,-1h1v1h-1zm1,-2h1v2h-1zm1,-1h1v1h-1zm1,-1h1v1h-1zm1,1h1v1h-1zm1,1h2v1h-2zm2,1h2v1h-2zm2,-1h4v1h-4zm4,1h3v1h-3zm3,-1h2v1h-2zm2,-1h6v1h-6zm6,1h1v1h-1zm1,1h1v2h-1zm1,2h1v1h-1zm1,1h1v1h-1zm1,1h2v1h-2zm2,1h2v1h-2zm2,1h1v1h-1zm1,1h2v1h-2zm2,1h6v1h-6zm6,-1h3v1h-3zm3,-2h1v2h-1zm1,-2h1v2h-1zm1,-2h1v2h-1zm1,-2h5v1h-5zm0,1h1v1h-1zm5,-2h1v1h-1zm1,-1h2v1h-2zm2,-1h1v1h-1zm1,-1h2v1h-2zm2,-1h3v1h-3zm3,1h4v1h-4zm4,1h3v1h-3zm2,-1h1v1h-1zm1,-2h1v2h-1zm1,-2h1v2h-1zm1,-2h1v2h-1zm1,-2h1v1h-1zm0,1h2v1h-2zm1,1h1v1h-1zm1,1h1v2h-1zm1,2h1v2h-1zm1,2h1v1h-1zm0,1h2v1h-2zm2,1h4v1h-4zm4,-1h3v1h-3zm3,-2h1v2h-1zm1,-2h1v2h-1zm1,-2h1v2h-1zm1,-1h1v1h-1zm1,1h1v1h-1zm1,1h2v1h-2zm2,1h1v1h-1zm1,-1h2v1h-2zm2,-1h2v1h-2zm2,1h1v2h-1zm1,2h1v2h-1zm1,2h1v2h-1zm1,2h1v1h-1zm1,1h1v2h-1zm1,2h1v1h-1zm1,1h1v2h-1zm1,2h1v1h-1zm1,-2h1v2h-1zm1,-1h1v1h-1zm1,-2h1v2h-1zm1,-1h1v1h-1zm1,-1h2v1h-2zm2,-1h3v1h-3zm3,-1h3v1h-3zm3,1h1v1h-1zm1,1h2v1h-2zm2,1h1v1h-1zm1,1h1v1h-1zm1,1h2v1h-2zm2,1h2v1h-2zm2,1h3v1h-3zm2,1h1v1h-1zm1,1h1v3h-1zm1,3h1v2h-1zm1,2h1v3h-1zm1,3h1v2h-1zm1,2h1v1h-1zm1,1h1v1h-1zm1,1h1v1h-1zm1,1h1v1h-1zm1,-1h2v1h-2zm2,-1h7v1h-7zm7,1h3v1h-3zm3,-1h1v1h-1zm1,-2h1v2h-1zm1,-1h1v1h-1zm1,-3h1v3h-1zm1,-4h1v4h-1zm1,-5h1v5h-1zm1,-4h1v4h-1zm1,-3h2v1h-2zm0,1h1v2h-1zm2,-2h7v1h-7zm7,1h1v1h-1zm1,1h2v1h-2zm2,1h1v1h-1zm1,-1h2v1h-2zm2,-1h2v1h-2zm2,-1h1v1h-1zm1,-1h2v1h-2zm2,-1h1v1h-1zm1,-1h2v1h-2zm2,-1h6v1h-6zm6,1h2v1h-2zm2,1h2v1h-2zm2,1h2v1h-2zm2,1h2v1h-2zm2,1h1v1h-1zm1,1h2v1h-2zm2,1h1v1h-1zm1,1h2v1h-2zm2,1h3v1h-3zm3,-1h8v1h-8zm8,-1h8v1h-8zm8,1h2v1h-2zm2,-1h1v1h-1zm1,-1h2v1h-2zm2,-1h1v1h-1zm1,-1h2v1h-2zm2,-1h2v1h-2zm2,1h1v2h-1zm1,2h1v2h-1zm1,2h1v2h-1zm1,2h1v2h-1zm1,2h2v1h-2zm2,1h4v1h-4zm4,-1h3v1h-3zm3,-1h2v1h-2zm2,-1h2v1h-2zm2,-1h2v1h-2zm2,-1h2v1h-2zm2,-1h1v1h-1zm1,-1h2v1h-2zm2,-1h2v1h-2zm2,-1h4v1h-4zm4,-1h15v1h-15zm14,1h1v2h-1zm1,2h1v4h-1zm1,4h1v4h-1zm1,4h1v4h-1zm1,4h1v3h-1zm1,3h1v1h-1zm1,1h1v2h-1zm1,2h1v1h-1zm1,1h1v1h-1zm1,-1h1v1h-1zm1,-1h2v1h-2zm2,-1h5v1h-5zm5,-1h2v1h-2zm2,-1h2v1h-2zm2,-2h1v2h-1zm1,-1h1v1h-1zm1,-2h1v2h-1zm1,-1h6v1h-6zm6,1h4v1h-4zm4,1h3v1h-3zm3,1h1v1h-1zm1,1h1v2h-1zm1,2h1v1h-1zm1,1h1v1h-1zm1,-2h1v2h-1zm1,-2h1v2h-1zm1,-2h1v2h-1zm1,-2h1v1h-1zm0,1h2v1h-2zm1,1h1v1h-1zm1,1h1v2h-1zm1,2h1v2h-1zm1,2h3v1h-3zm0,1h1v1h-1zm3,-2h2v1h-2zm2,1h1v1h-1zm1,1h1v2h-1zm1,2h1v1h-1zm1,1h1v1h-1zm1,-1h1v1h-1zm1,-1h1v1h-1zm1,-1h1v1h-1zm1,-1h1v1h-1zm1,-1h1v1h-1zm1,-1h2v1h-2zm2,-1h2v1h-2zm2,-1h3v1h-3zm3,-1h1v1h-1zm1,-1h1v1h-1zm1,-1h1v1h-1zm1,-1h5v1h-5zm5,-1h2v1h-2zm2,-1h2v1h-2zm1,1h1v2h-1zm1,2h1v5h-1zm1,5h1v4h-1zm1,4h1v5h-1zm1,5h1v1h-1zm0,1h2v1h-2zm0,1h1v1h-1zm2,-2h1v1h-1zm1,-1h1v1h-1zm1,-1h5v1h-5zm5,1h1v1h-1zm1,1h1v1h-1zm1,1h1v1h-1zm1,1h1v1h-1zm1,1h1v1h-1zm1,1h1v1h-1zm1,1h1v1h-1zm1,1h2v1h-2zm2,1h7v1h-7zm7,-1h2v1h-2zm2,-1h2v1h-2zm2,1h2v1h-2zm2,1h2v1h-2zm2,-1h2v1h-2zm2,-1h2v1h-2zm2,1h1v1h-1zm1,1h1v2h-1zm1,2h1v1h-1zm1,1h2v1h-2zm2,-1h7v1h-7zm7,-1h1v1h-1zm1,-1h1v1h-1zm1,-1h1v1h-1zm1,-1h1v1h-1zm1,1h2v1h-2zm2,1h2v1h-2zm2,-2h1v2h-1zm1,-2h1v2h-1zm1,-2h1v2h-1zm1,-1h1v1h-1zm1,-1h1v1h-1zm1,-1h2v1h-2zm2,-1h2v1h-2zm2,-1h3v1h-3zm3,-1h1v1h-1zm1,-1h1v1h-1zm1,-1h1v1h-1zm1,-1h1v1h-1zm1,1h1v1h-1zm1,1h2v1h-2zm2,1h1v1h-1zm1,1h2v1h-2zm2,1h2v1h-2zm2,1h2v1h-2zm2,1h2v1h-2zm2,-1h2v1h-2zm2,-1h2v1h-2zm2,-2h1v2h-1zm1,-1h1v1h-1zm1,-2h1v2h-1zm1,-1h1v1h-1zm1,-2h1v2h-1zm1,-2h1v2h-1zm1,-2h1v2h-1zm1,-1h1v1h-1zm1,1h1v1h-1zm1,1h2v1h-2zm2,1h1v1h-1zm1,-1h2v1h-2zm2,-1h2v1h-2zm2,-1h1v1h-1zm1,-1h1v1h-1zm1,-1h1v1h-1zm1,-1h1v1h-1zm1,-2h1v2h-1zm1,-2h1v2h-1zm1,-2h1v2h-1zm1,-1h1v1h-1zm1,1h1v1h-1zm1,1h2v1h-2zm2,1h1v1h-1zm1,1h1v1h-1zm1,1h1v1h-1zm1,1h1v1h-1zm1,1h2v1h-2zm2,-1h10v1h-10z" fill="#1e90ff"/>
</g>
<text x="5.94" y="539" font-size="10.2" textLength="68.02" lengthAdjust="spacingAndGlyphs">RSI(14) 53.3120</text>
<g class="cr">
<path d="M2,656h1v1h-1zM6,657h1v1h-1zM10,657h1v2h-1zM14,657h1v2h-1zM18,657h1v2h-1zM22,657h1v3h-1zM26,657h1v3h-1zM30,657h1v3h-1zM34,657h1v3h-1zM38,657h1v3h-1zM42,657h1v1h-1zM46,655h1v2h-1zM50,652h1v5h-1zM54,648h1v9h-1zM58,645h1v12h-1zM62,640h1v17h-1zM66,637h1v20h-1zM70,634h1v23h-1zM74,632h1v25h-1zM78,632h1v25h-1zM82,631h1v26h-1zM86,631h1v26h-1zM90,630h1v27h-1zM94,630h1v27h-1zM98,630h1v27h-1zM102,631h1v26h-1zM106,631h1v26h-1zM110,632h1v25h-1zM114,633h1v24h-1zM118,635h1v22h-1zM122,636h1v21h-1zM126,634h1v23h-1zM130,633h1v24h-1zM134,634h1v23h-1zM138,635h1v22h-1zM142,634h1v23h-1zM146,633h1v24h-1zM150,632h1v25h-1zM154,633h1v24h-1zM158,637h1v20h-1zM162,642h1v15h-1zM166,645h1v12h-1zM170,648h1v9h-1zM174,652h1v5h-1zM178,653h1v4h-1zM182,652h1v5h-1zM186,651h1v6h-1zM190,651h1v6h-1zM194,650h1v7h-1zM198,651h1v6h-1zM202,652h1v5h-1zM206,654h1v3h-1zM210,657h1v1h-1zM214,656h1v1h-1zM218,656h1v1h-1zM222,656h1v1h-1zM226,656h1v1h-1zM230,655h1v2h-1zM234,655h1v2h-1zM238,652h1v5h-1zM242,651h1v6h-1zM246,648h1v9h-1zM250,645h1v12h-1zM254,643h1v14h-1zM258,641h1v16h-1zM262,641h1v16h-1zM266,641h1v16h-1zM270,642h1v15h-1zM274,643h1v14h-1zM278,645h1v12h-1zM282,647h1v10h-1zM286,650h1v7h-1zM290,653h1v4h-1zM294,654h1v3h-1zM298,655h1v2h-1zM302,654h1v3h-1zM306,652h1v5h-1zM310,649h1v8h-1zM314,648h1v9h-1zM318,649h1v8h-1zM322,650h1v7h-1zM326,651h1v6h-1zM330,651h1v6h-1zM334,652h1v5h-1zM338,652h1v5h-1zM342,654h1v3h-1zM346,656h1v1h-1zM350,657h1v2h-1zM354,657h1v6h-1zM358,657h1v8h-1zM362,657h1v9h-1zM366,657h1v8h-1zM370,657h1v6h-1zM374,657h1v5h-1zM378,657h1v4h-1zM382,657h1v4h-1zM386,657h1v5h-1zM390,657h1v7h-1zM394,657h1v8h-1zM398,657h1v10h-1zM402,657h1v11h-1zM406,657h1v10h-1zM410,657h1v9h-1zM414,657h1v9h-1zM418,657h1v7h-1zM422,657h1v5h-1zM426,657h1v3h-1zM430,657h1v2h-1zM434,657h1v2h-1zM438,657h1v1h-1zM442,657h1v1h-1zM446,655h1v2h-1zM450,652h1v5h-1zM454,649h1v8h-1zM458,649h1v8h-1zM462,648h1v9h-1zM466,644h1v13h-1zM470,639h1v18h-1zM474,636h1v21h-1zM478,634h1v23h-1zM482,631h1v26h-1zM486,628h1v29h-1zM490,627h1v30h-1zM494,625h1v32h-1zM498,628h1v29h-1zM502,631h1v26h-1zM506,632h1v25h-1zM510,633h1v24h-1zM514,633h1v24h-1zM518,635h1v22h-1zM522,637h1v20h-1zM526,641h1v16h-1zM530,644h1v13h-1zM534,648h1v9h-1zM538,652h1v5h-1zM542,657h1v1h-1zM546,657h1v7h-1zM550,657h1v11h-1zM554,657h1v16h-1zM558,657h1v19h-1zM562,657h1v20h-1zM566,657h1v20h-1zM570,657h1v21h-1zM574,657h1v20h-1zM578,657h1v19h-1zM582,657h1v18h-1zM586,657h1v15h-1zM590,657h1v11h-1zM594,657h1v9h-1zM598,657h1v8h-1zM602,657h1v7h-1zM606,657h1v7h-1zM610,657h1v6h-1zM614,657h1v5h-1zM618,657h1v3h-1zM622,657h1v1h-1zM626,656h1v1h-1zM630,655h1v2h-1zM634,653h1v4h-1zM638,653h1v4h-1zM642,652h1v5h-1zM646,652h1v5h-1zM650,652h1v5h-1zM654,653h1v4h-1zM658,654h1v3h-1zM662,657h1v1h-1zM666,657h1v3h-1zM670,657h1v5h-1zM674,657h1v6h-1zM678,657h1v5h-1zM682,657h1v4h-1zM686,657h1v4h-1zM690,657h1v4h-1zM694,657h1v4h-1zM698,657h1v4h-1zM702,657h1v3h-1zM706,657h1v4h-1zM710,657h1v4h-1zM714,657h1v5h-1zM718,657h1v6h-1zM722,657h1v7h-1zM726,657h1v7h-1zM730,657h1v6h-1zM734,657h1v6h-1zM738,657h1v6h-1zM742,657h1v5h-1zM746,657h1v5h-1zM750,657h1v4h-1zM754,657h1v3h-1zM758,657h1v3h-1zM762,657h1v3h-1zM766,657h1v1h-1zM770,656h1v1h-1zM774,655h1v2h-1zM778,655h1v2h-1zM782,656h1v1h-1zM786,657h1v1h-1zM790,657h1v1h-1zM794,657h1v1h-1zM798,657h1v2h-1zM802,657h1v3h-1zM806,657h1v2h-1zM810,657h1v2h-1zM814,657h1v3h-1zM818,657h1v4h-1zM822,657h1v5h-1zM826,657h1v7h-1zM830,657h1v9h-1zM834,657h1v9h-1zM838,657h1v8h-1zM842,657h1v8h-1zM846,657h1v7h-1zM850,657h1v6h-1zM854,657h1v5h-1zM858,657h1v3h-1zM862,657h1v2h-1zM866,657h1v1h-1zM870,657h1v1h-1zM874,656h1v1h-1zM878,655h1v2h-1zM882,654h1v3h-1zM886,653h1v4h-1zM890,654h1v3h-1zM894,655h1v2h-1zM898,655h1v2h-1zM902,656h1v1h-1zM906,655h1v2h-1zM910,656h1v1h-1zM914,656h1v1h-1zM918,657h1v1h-1zM922,657h1v4h-1zM926,657h1v8h-1zM930,657h1v13h-1zM934,657h1v16h-1zM938,657h1v18h-1zM942,657h1v19h-1zM946,657h1v15h-1zM950,657h1v11h-1zM954,657h1v7h-1zM958,657h1v5h-1zM962,657h1v3h-1zM966,657h1v1h-1zM970,655h1v2h-1zM974,653h1v4h-1zM978,651h1v6h-1zM982,649h1v8h-1zM986,650h1v7h-1zM990,652h1v5h-1zM994,651h1v6h-1zM998,650h1v7h-1zM1002,650h1v7h-1zM1006,651h1v6h-1zM1010,651h1v6h-1zM1014,652h1v5h-1zM1018,652h1v5h-1zM1022,652h1v5h-1zM1026,653h1v4h-1zM1030,654h1v3h-1zM1034,654h1v3h-1zM1038,654h1v3h-1zM1042,653h1v4h-1zM1046,653h1v4h-1zM1050,652h1v5h-1zM1054,652h1v5h-1zM1058,652h1v5h-1zM1062,653h1v4h-1zM1066,654h1v3h-1zM1070,656h1v1h-1zM1074,657h1v3h-1zM1078,657h1v6h-1zM1082,657h1v6h-1zM1086,657h1v6h-1zM1090,657h1v6h-1zM1094,657h1v6h-1zM1098,657h1v6h-1zM1102,657h1v7h-1zM1106,657h1v8h-1zM1110,657h1v8h-1zM1114,657h1v8h-1zM1118,657h1v9h-1zM1122,657h1v10h-1zM1126,657h1v10h-1zM1130,657h1v9h-1zM1134,657h1v9h-1zM1138,657h1v9h-1zM1142,657h1v10h-1zM1146,657h1v13h-1zM1150,657h1v16h-1zM1154,657h1v19h-1zM1158,657h1v23h-1zM1162,657h1v29h-1zM1166,657h1v33h-1zM1170,657h1v36h-1zM1174,657h1v39h-1zM1178,657h1v40h-1zM1182,657h1v42h-1zM1186,657h1v45h-1zM1190,657h1v47h-1zM1194,657h1v48h-1zM1198,657h1v48h-1zM1202,657h1v47h-1zM1206,657h1v46h-1zM1210,657h1v45h-1zM1214,657h1v42h-1zM1218,657h1v38h-1zM1222,657h1v35h-1zM1226,657h1v34h-1zM1230,657h1v34h-1zM1234,657h1v32h-1zM1238,657h1v29h-1zM1242,657h1v24h-1zM1246,657h1v22h-1zM1250,657h1v19h-1zM1254,657h1v15h-1zM1258,657h1v9h-1zM1262,657h1v6h-1zM1266,657h1v4h-1zM1270,657h1v2h-1zM1274,657h1v1h-1z" fill="#c0c0c0"/>
<path d="M2,655h2v1h-2zm5,1h3v1h-3zm6,0h1v1h-1zm1,1h2v1h-2zm5,0h3v1h-3zm6,1h3v1h-3zm6,0h3v1h-3zm6,0h3v1h-3zm6,-1h3v1h-3zm6,-1h3v1h-3zm6,-1h1v1h-1zm1,-1h2v1h-2zm5,-3h2v1h-2zm2,-1h1v1h-1zm4,-3h2v1h-2zm2,-1h1v1h-1zm4,-3h2v1h-2zm2,-1h1v1h-1zm4,-3h2v1h-2zm2,-1h1v1h-1zm4,-3h2v1h-2zm2,-1h1v1h-1zm4,-2h1v1h-1zm1,-1h2v1h-2zm5,-1h3v1h-3zm6,-1h3v1h-3zm6,0h3v1h-3zm6,0h3v1h-3zm6,1h3v1h-3zm6,1h3v1h-3zm6,0h2v1h-2zm2,1h1v1h-1zm4,0h3v1h-3zm6,1h3v1h-3zm6,0h3v1h-3zm6,0h2v1h-2zm2,1h1v1h-1zm4,0h2v1h-2zm2,1h1v1h-1zm4,1h3v1h-3zm6,2h1v1h-1zm1,1h2v1h-2zm5,3h2v1h-2zm2,1h1v1h-1zm4,1h1v1h-1zm1,1h2v1h-2zm5,2h1v1h-1zm1,1h2v1h-2zm5,1h1v1h-1zm1,1h2v1h-2zm5,1h3v1h-3zm6,1h3v1h-3zm6,0h2v1h-2zm2,1h1v1h-1zm4,0h2v1h-2zm2,1h1v1h-1zm4,1h3v1h-3zm6,0h3v1h-3zm6,-1h3v1h-3zm6,-1h2v1h-2zm2,-1h1v1h-1zm4,-1h1v1h-1zm1,-1h2v1h-2zm5,-2h1v1h-1zm1,-1h2v1h-2zm5,-2h2v1h-2zm2,-1h1v1h-1zm4,-1h3v1h-3zm6,-1h3v1h-3zm6,1h3v1h-3zm6,1h3v1h-3zm6,1h1v1h-1zm1,1h2v1h-2zm5,1h1v1h-1zm1,1h2v1h-2zm5,1h1v1h-1zm1,1h2v1h-2zm5,0h3v1h-3zm6,1h3v1h-3zm6,0h2v1h-2zm2,-1h1v1h-1zm4,0h3v1h-3zm6,0h3v1h-3zm6,0h3v1h-3zm6,1h2v1h-2zm2,1h1v1h-1zm4,1h1v1h-1zm1,1h2v1h-2zm5,2h2v1h-2zm2,1h1v1h-1zm4,1h1v1h-1zm1,1h2v1h-2zm5,1h2v1h-2zm2,1h1v1h-1zm4,1h3v1h-3zm6,1h3v1h-3zm6,0h3v1h-3zm6,0h3v1h-3zm6,0h3v1h-3zm6,0h3v1h-3zm6,1h3v1h-3zm6,0h3v1h-3zm6,0h2v1h-2zm2,-1h1v1h-1zm4,0h2v1h-2zm2,-1h1v1h-1zm4,-1h1v1h-1zm1,-1h2v1h-2zm5,-2h3v1h-3zm6,-2h2v1h-2zm2,-1h1v1h-1zm4,-1h2v1h-2zm2,-1h1v1h-1zm4,-1h1v1h-1zm1,-1h2v1h-2zm5,-3h2v1h-2zm2,-1h1v1h-1zm4,-2h1v1h-1zm1,-1h1v1h-1zm1,-1h1v1h-1zm4,-2h1v1h-1zm1,-1h2v1h-2zm5,-3h2v1h-2zm2,-1h1v1h-1zm4,-2h1v1h-1zm1,-1h2v1h-2zm5,-2h1v1h-1zm1,-1h2v1h-2zm5,-1h3v1h-3zm6,0h3v1h-3zm6,0h3v1h-3zm6,1h3v1h-3zm6,3h2v1h-2zm2,1h1v1h-1zm4,2h1v1h-1zm1,1h2v1h-2zm5,3h2v1h-2zm2,1h1v1h-1zm4,3h1v1h-1zm1,1h1v1h-1zm1,1h1v1h-1zm4,4h1v1h-1zm1,1h1v1h-1zm1,1h1v1h-1zm4,4h1v1h-1zm1,1h1v1h-1zm1,1h1v1h-1zm4,4h1v1h-1zm1,1h1v1h-1zm1,1h1v1h-1zm4,4h1v1h-1zm1,1h1v1h-1zm1,1h1v1h-1zm4,2h1v1h-1zm1,1h2v1h-2zm5,1h1v1h-1zm1,1h2v1h-2zm5,0h1v1h-1zm1,-1h2v1h-2zm5,-2h2v1h-2zm2,-1h1v1h-1zm4,-1h2v1h-2zm2,-1h1v1h-1zm4,-1h1v1h-1zm1,-1h2v1h-2zm5,-2h1v1h-1zm1,-1h2v1h-2zm5,-2h3v1h-3zm6,-1h2v1h-2zm2,-1h1v1h-1zm4,-1h1v1h-1zm1,-1h2v1h-2zm5,-2h3v1h-3zm6,-1h2v1h-2zm2,-1h1v1h-1zm4,0h3v1h-3zm6,-1h3v1h-3zm6,0h3v1h-3zm6,1h1v1h-1zm1,1h2v1h-2zm5,1h2v1h-2zm2,1h1v1h-1zm4,0h2v1h-2zm2,1h1v1h-1zm4,1h3v1h-3zm6,1h3v1h-3zm6,0h2v1h-2zm2,-1h1v1h-1zm4,0h3v1h-3zm6,0h3v1h-3zm6,0h3v1h-3zm6,0h2v1h-2zm2,1h1v1h-1zm4,0h2v1h-2zm2,1h1v1h-1zm4,1h3v1h-3zm6,0h3v1h-3zm6,0h2v1h-2zm2,-1h1v1h-1zm4,0h3v1h-3zm6,0h3v1h-3zm6,-2h3v1h-3zm6,-1h2v1h-2zm2,-1h1v1h-1zm4,0h3v1h-3zm6,-1h3v1h-3zm6,0h3v1h-3zm6,0h3v1h-3zm6,0h3v1h-3zm6,0h3v1h-3zm6,1h2v1h-2zm2,1h1v1h-1zm4,0h2v1h-2zm2,1h1v1h-1zm4,0h2v1h-2zm2,1h1v1h-1zm4,1h3v1h-3zm6,1h3v1h-3zm6,0h2v1h-2zm2,1h1v1h-1zm4,0h3v1h-3zm6,0h3v1h-3zm6,-1h2v1h-2zm2,-1h1v1h-1zm4,-1h3v1h-3zm6,-1h2v1h-2zm2,-1h1v1h-1zm4,-1h3v1h-3zm6,-1h2v1h-2zm2,-1h1v1h-1zm4,0h2v1h-2zm2,-1h1v1h-1zm4,0h3v1h-3zm6,0h3v1h-3zm6,-1h3v1h-3zm6,1h3v1h-3zm6,0h3v1h-3zm6,1h1v1h-1zm1,1h2v1h-2zm5,2h1v1h-1zm1,1h2v1h-2zm5,3h2v1h-2zm2,1h1v1h-1zm4,3h2v1h-2zm2,1h1v1h-1zm4,1h3v1h-3zm6,1h3v1h-3zm6,-1h1v1h-1zm1,-1h2v1h-2zm5,-3h2v1h-2zm2,-1h1v1h-1zm4,-2h1v1h-1zm1,-1h2v1h-2zm5,-3h1v1h-1zm1,-1h2v1h-2zm5,-2h2v1h-2zm2,-1h1v1h-1zm4,-1h1v1h-1zm1,-1h2v1h-2zm5,-1h3v1h-3zm6,0h3v1h-3zm6,0h3v1h-3zm6,0h2v1h-2zm2,1h1v1h-1zm4,0h3v1h-3zm6,1h3v1h-3zm6,0h3v1h-3zm6,0h2v1h-2zm2,1h1v1h-1zm4,0h3v1h-3zm6,0h3v1h-3zm6,0h3v1h-3zm6,0h3v1h-3zm6,0h3v1h-3zm6,0h2v1h-2zm2,1h1v1h-1zm4,1h2v1h-2zm2,1h1v1h-1zm4,1h2v1h-2zm2,1h1v1h-1zm4,1h3v1h-3zm6,1h2v1h-2zm2,1h1v1h-1zm4,1h3v1h-3zm6,1h3v1h-3zm6,1h3v1h-3zm6,0h2v1h-2zm2,1h1v1h-1zm4,0h3v1h-3zm6,0h3v1h-3zm6,0h3v1h-3zm6,1h3v1h-3zm6,1h1v1h-1zm1,1h2v1h-2zm5,1h1v1h-1zm1,1h2v1h-2zm5,2h1v1h-1zm1,1h1v1h-1zm1,1h1v1h-1zm4,3h1v1h-1zm1,1h2v1h-2zm5,4h1v1h-1zm1,1h2v1h-2zm5,4h1v1h-1zm1,1h2v1h-2zm5,4h1v1h-1zm1,1h2v1h-2zm5,3h1v1h-1zm1,1h1v1h-1zm1,1h1v1h-1zm4,2h3v1h-3zm6,1h3v1h-3zm6,0h3v1h-3zm6,-1h3v1h-3zm6,-2h1v1h-1zm1,-1h2v1h-2zm5,-2h1v1h-1zm1,-1h2v1h-2zm5,-2h1v1h-1zm1,-1h2v1h-2zm5,-2h1v1h-1zm1,-1h1v1h-1zm1,-1h1v1h-1zm4,-2h1v1h-1zm1,-1h2v1h-2zm5,-2h1v1h-1zm1,-1h2v1h-2zm5,-3h1v1h-1zm1,-1h2v1h-2zm5,-4h1v1h-1zm1,-1h2v1h-2zm5,-3h1v1h-1zm1,-1h2v1h-2z" fill="#ff0000"/>
</g>
<text x="5.93" y="632" font-size="10.2" textLength="154.27" lengthAdjust="spacingAndGlyphs">MACD(12,26,9) -0.000024 -0.001038</text>
<g class="cr" fill="#000">
<rect x="2" y="710" width="1" height="3"/>
<rect x="66" y="710" width="1" height="3"/>
<rect x="130" y="710" width="1" height="3"/>
<rect x="194" y="710" width="1" height="3"/>
<rect x="258" y="710" width="1" height="3"/>
<rect x="322" y="710" width="1" height="3"/>
<rect x="386" y="710" width="1" height="3"/>
<rect x="450" y="710" width="1" height="3"/>
<rect x="514" y="710" width="1" height="3"/>
<rect x="578" y="710" width="1" height="3"/>
<rect x="642" y="710" width="1" height="3"/>
<rect x="706" y="710" width="1" height="3"/>
<rect x="770" y="710" width="1" height="3"/>
<rect x="834" y="710" width="1" height="3"/>
<rect x="898" y="710" width="1" height="3"/>
<rect x="962" y="710" width="1" height="3"/>
<rect x="1026" y="710" width="1" height="3"/>
<rect x="1090" y="710" width="1" height="3"/>
<rect x="1154" y="710" width="1" height="3"/>
<rect x="1218" y="710" width="1" height="3"/>
</g>
<text x="1.09" y="722" font-size="10.2" textLength="50.87" lengthAdjust="spacingAndGlyphs">12 Apr 2021</text>
<text x="65.08" y="722" font-size="10.2" textLength="54.19" lengthAdjust="spacingAndGlyphs">15 Apr 00:00</text>
<text x="129.08" y="722" font-size="10.2" textLength="54.19" lengthAdjust="spacingAndGlyphs">19 Apr 19:00</text>
<text x="193.33" y="722" font-size="10.2" textLength="53.94" lengthAdjust="spacingAndGlyphs">22 Apr 10:00</text>
<text x="257.33" y="722" font-size="10.2" textLength="53.94" lengthAdjust="spacingAndGlyphs">27 Apr 00:00</text>
<text x="321.33" y="722" font-size="10.2" textLength="53.94" lengthAdjust="spacingAndGlyphs">29 Apr 18:00</text>
<text x="385.58" y="722" font-size="10.2" textLength="52.59" lengthAdjust="spacingAndGlyphs">4 May 10:00</text>
<text x="449.31" y="722" font-size="10.2" textLength="52.87" lengthAdjust="spacingAndGlyphs">7 May 00:00</text>
<text x="513.07" y="722" font-size="10.2" textLength="58.00" lengthAdjust="spacingAndGlyphs">11 May 18:00</text>
<text x="577.07" y="722" font-size="10.2" textLength="58.00" lengthAdjust="spacingAndGlyphs">14 May 10:00</text>
<text x="641.07" y="722" font-size="10.2" textLength="58.00" lengthAdjust="spacingAndGlyphs">19 May 00:00</text>
<text x="705.32" y="722" font-size="10.2" textLength="57.75" lengthAdjust="spacingAndGlyphs">21 May 18:00</text>
<text x="769.32" y="722" font-size="10.2" textLength="57.75" lengthAdjust="spacingAndGlyphs">26 May 10:00</text>
<text x="833.32" y="722" font-size="10.2" textLength="57.75" lengthAdjust="spacingAndGlyphs">29 May 00:00</text>
<text x="897.34" y="722" font-size="10.2" textLength="47.41" lengthAdjust="spacingAndGlyphs">2 Jun 18:00</text>
<text x="961.33" y="722" font-size="10.2" textLength="47.42" lengthAdjust="spacingAndGlyphs">7 Jun 11:00</text>
<text x="1025.11" y="722" font-size="10.2" textLength="52.55" lengthAdjust="spacingAndGlyphs">10 Jun 00:00</text>
<text x="1089.11" y="722" font-size="10.2" textLength="52.55" lengthAdjust="spacingAndGlyphs">14 Jun 19:00</text>
<text x="1153.11" y="722" font-size="10.2" textLength="52.55" lengthAdjust="spacingAndGlyphs">17 Jun 10:00</text>
<text x="1217.35" y="722" font-size="10.2" textLength="52.31" lengthAdjust="spacingAndGlyphs">22 Jun 00:00</text>
<g class="cr">
<rect x="0" y="730" width="1651" height="1" fill="#e3e3e3"/>
<rect x="0" y="733" width="1651" height="19" fill="#f0f0f0"/>
<rect x="0" y="752" width="1651" height="1" fill="#fff"/>
<rect x="0" y="753" width="1651" height="3" fill="#f0f0f0"/>
<rect x="0" y="732" width="1651" height="1" fill="#000"/>
<rect x="0" y="733" width="1651" height="1" fill="#fff"/>
<rect x="288" y="732" width="90" height="18" fill="#fff"/>
<rect x="287" y="732" width="1" height="19" fill="#000"/><rect x="378" y="732" width="1" height="19" fill="#000"/><rect x="287" y="750" width="92" height="1" fill="#000"/>
<rect x="286" y="733" width="1" height="18" fill="#fff"/>
<rect x="91" y="735" width="1" height="14" fill="#5a5a5a"/>
<rect x="195" y="735" width="1" height="14" fill="#5a5a5a"/>
<rect x="471" y="735" width="1" height="14" fill="#5a5a5a"/>
<rect x="563" y="735" width="1" height="14" fill="#5a5a5a"/>
<rect x="647" y="735" width="1" height="14" fill="#5a5a5a"/>
<path d="M1629.3,738.2v6.6l-3.4,-3.3z M1645,738.2v6.6l3.4,-3.3z" fill="#a0a0a0" shape-rendering="geometricPrecision"/>
</g>
<text class="tab" x="12.79" y="747" font-size="13" textLength="67.35" lengthAdjust="spacingAndGlyphs">USDCHF,H4</text>
<text class="tab" x="100.96" y="747" font-size="13" textLength="82.87" lengthAdjust="spacingAndGlyphs">USDCNH,Daily</text>
<text class="tab" x="206.93" y="747" font-size="13" textLength="68.11" lengthAdjust="spacingAndGlyphs">EURUSD,H4</text>
<text class="tabA" x="298.38" y="747" font-size="13" textLength="69.58" lengthAdjust="spacingAndGlyphs">AUDUSD,H4</text>
<text class="tab" x="390.28" y="747" font-size="13" textLength="68.66" lengthAdjust="spacingAndGlyphs">USDCAD,H4</text>
<text class="tab" x="482.53" y="747" font-size="13" textLength="68.05" lengthAdjust="spacingAndGlyphs">XAUUSD,H1</text>
<text class="tab" x="572.96" y="747" font-size="13" textLength="62.57" lengthAdjust="spacingAndGlyphs">USOil,Daily</text>
</svg></body></html>
